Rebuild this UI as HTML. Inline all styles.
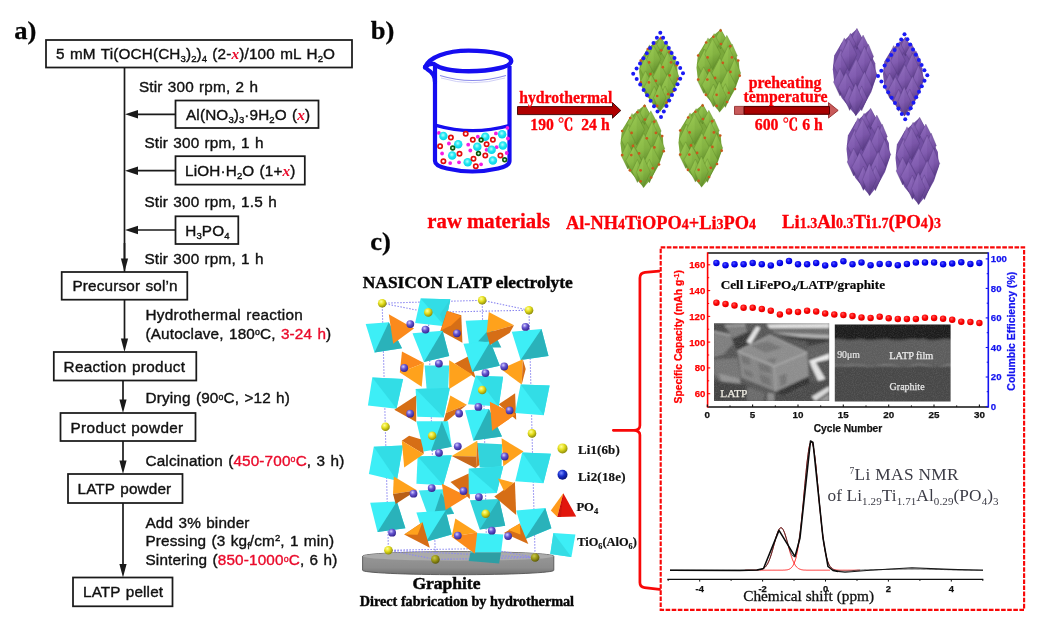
<!DOCTYPE html>
<html><head><meta charset="utf-8"><title>LATP figure</title>
<style>
html,body{margin:0;padding:0;background:#fff;}
body{width:1047px;height:637px;overflow:hidden;position:relative;}
svg{position:absolute;left:0;top:0;}
.fa{font-family:'Liberation Sans','NanumGothic',sans-serif;font-size:15.3px;fill:#111;letter-spacing:0.15px;word-spacing:0.9px;stroke:#111;stroke-width:0.38px}
.sub{font-size:9.5px;letter-spacing:0}
.rx{font-family:'Liberation Serif',serif;font-style:italic;font-weight:bold;fill:#ea0c2c;stroke:none}
.red{fill:#ea0c2c;stroke:#ea0c2c}
.lbl{font-family:"Liberation Serif",serif;font-weight:bold;fill:#050505}
.rb{font-family:'Liberation Serif','Noto Serif CJK SC',serif;font-weight:bold;fill:#fb0007;stroke:#fb0007;stroke-width:0.3px}
.bx{fill:#fff;stroke:#1a1a1a;stroke-width:1.75}
.ln{stroke:#1a1a1a;stroke-width:1.7;fill:none}
</style></head><body>
<svg width="1047" height="637" viewBox="0 0 1047 637">
<rect width="1047" height="637" fill="#fff"/>
<g id="panelA"><text class="lbl" transform="translate(14.3,39.3) scale(1.07,1)" font-size="24.8" stroke="#111" stroke-width="0.3">a)</text><path class="ln" d="M124.5 67 V272"/><rect class="bx" x="46" y="40" width="306" height="27.5"/><text class="fa" x="56" y="59.3">5 mM Ti(OCH(CH<tspan class="sub" baseline-shift="-3">3</tspan>)<tspan class="sub" baseline-shift="-3">2</tspan>)<tspan class="sub" baseline-shift="-3">4</tspan> (2-<tspan class="rx">x</tspan>)/100 mL H<tspan class="sub" baseline-shift="-3">2</tspan>O</text><text class="fa" x="139" y="91.5">Stir 300 rpm, 2 h</text><rect class="bx" x="175.5" y="100.5" width="143.0" height="27.5"/><path class="ln" d="M175.5 114.3 H132.5"/><path d="M138.0 110.1 L138.0 118.5 L125.0 114.3 Z" fill="#1a1a1a"/><text class="fa" x="186" y="119.8">Al(NO<tspan class="sub" baseline-shift="-3">3</tspan>)<tspan class="sub" baseline-shift="-3">3</tspan>·9H<tspan class="sub" baseline-shift="-3">2</tspan>O (<tspan class="rx">x</tspan>)</text><text class="fa" x="144.5" y="147.8">Stir 300 rpm, 1 h</text><rect class="bx" x="175.5" y="156.2" width="129.3" height="28.400000000000006"/><path class="ln" d="M175.5 170.7 H132.5"/><path d="M138.0 166.5 L138.0 174.89999999999998 L125.0 170.7 Z" fill="#1a1a1a"/><text class="fa" x="185" y="176.1">LiOH·H<tspan class="sub" baseline-shift="-3">2</tspan>O (1+<tspan class="rx">x</tspan>)</text><text class="fa" x="144.5" y="206.5">Stir 300 rpm, 1.5 h</text><rect class="bx" x="175.5" y="216.3" width="62.80000000000001" height="27.69999999999999"/><path class="ln" d="M175.5 230 H132.5"/><path d="M138.0 225.8 L138.0 234.2 L125.0 230 Z" fill="#1a1a1a"/><text class="fa" x="185.3" y="235.5">H<tspan class="sub" baseline-shift="-3">3</tspan>PO<tspan class="sub" baseline-shift="-3">4</tspan></text><text class="fa" x="144.5" y="264">Stir 300 rpm, 1 h</text><path class="ln" d="M124.5 243 V264"/><path d="M120.9 258.5 L128.1 258.5 L124.5 272 Z" fill="#1a1a1a"/><rect class="bx" x="61.7" y="272" width="125.60000000000001" height="27.69999999999999"/><text class="fa" x="72.5" y="291.3">Precursor sol’n</text><path class="ln" d="M124.5 299.5 V344"/><path d="M120.9 338.5 L128.1 338.5 L124.5 352 Z" fill="#1a1a1a"/><text class="fa" x="145.5" y="319.7" style="letter-spacing:0.3px">Hydrothermal reaction</text><text class="fa" x="145.5" y="338.5">(Autoclave, 180<tspan font-size="8.8" dy="-3.6">o</tspan><tspan dy="3.6">C, </tspan><tspan class="red">3-24 h</tspan>)</text><rect class="bx" x="53.8" y="352" width="142.5" height="28.5"/><text class="fa" x="63.5" y="371.8" style="letter-spacing:0.33px">Reaction product</text><path class="ln" d="M123 380.5 V405"/><path d="M119.4 399.5 L126.6 399.5 L123 413 Z" fill="#1a1a1a"/><text class="fa" x="145.5" y="403.3">Drying (90<tspan font-size="8.8" dy="-3.6">o</tspan><tspan dy="3.6">C, &gt;12 h)</tspan></text><rect class="bx" x="60.5" y="413" width="135.0" height="28"/><text class="fa" x="70.5" y="432.7" style="letter-spacing:0.36px">Product powder</text><path class="ln" d="M123 441 V466"/><path d="M119.4 460.5 L126.6 460.5 L123 474 Z" fill="#1a1a1a"/><text class="fa" x="145.5" y="465.8">Calcination (<tspan class="red">450-700<tspan font-size="8.8" dy="-3.6">o</tspan><tspan dy="3.6">C</tspan></tspan>, 3 h)</text><rect class="bx" x="68" y="474" width="114.5" height="29"/><text class="fa" x="77.5" y="494.3">LATP powder</text><path class="ln" d="M123 503 V569.5"/><path d="M119.4 564.0 L126.6 564.0 L123 577.5 Z" fill="#1a1a1a"/><text class="fa" x="145.5" y="527.5">Add 3% binder</text><text class="fa" x="145.5" y="546.3">Pressing (3 kg<tspan class="sub" dy="3">f</tspan><tspan dy="-3">/cm</tspan><tspan class="sub" dy="-5">2</tspan><tspan dy="5">, 1 min)</tspan></text><text class="fa" x="145.5" y="565.3">Sintering (<tspan class="red">850-1000<tspan font-size="8.8" dy="-3.6">o</tspan><tspan dy="3.6">C</tspan></tspan>, 6 h)</text><rect class="bx" x="73" y="577.5" width="99.5" height="28.799999999999955"/><text class="fa" x="83" y="597.3">LATP pellet</text></g><defs><filter id="soft" x="-5%" y="-5%" width="110%" height="110%"><feGaussianBlur stdDeviation="0.45"/></filter><radialGradient id="cy" cx="0.45" cy="0.4" r="0.6"><stop offset="0" stop-color="#b8ffff"/><stop offset="0.5" stop-color="#22e6f2"/><stop offset="1" stop-color="#08d2e6"/></radialGradient></defs><g id="panelB"><text class="lbl" transform="translate(370.8,39.3) scale(1.07,1)" font-size="24.8" stroke="#111" stroke-width="0.3">b)</text><g filter="url(#soft)"><path d="M435 66 V161 Q435 166 447 168.5 Q472 174.5 498 168.5 Q509.5 166 509.5 161 V66" fill="#fff" stroke="#120cf0" stroke-width="4.2" stroke-linejoin="round"/><path d="M436 125.3 Q472 135.8 509 125.6" fill="none" stroke="#120cf0" stroke-width="3.3"/><path d="M425.4 66.6 C429 57.5 446 50.6 468.6 50.6 C492 50.6 511.2 55 511.2 60.9 C511.2 66.8 492 71.2 468.6 71.2 C452 71.2 439.5 68.4 433.8 64 Q429 63.4 425.4 66.6 Z" fill="#fff" stroke="#120cf0" stroke-width="4.4" stroke-linejoin="round"/><circle cx="425.6" cy="67.2" r="2.7" fill="#120cf0"/><path d="M427.5 69.5 Q434.8 73.5 435 82" fill="none" stroke="#120cf0" stroke-width="4.2" stroke-linecap="round"/><path d="M440 75.5 Q472 85.5 506 75.5" fill="none" stroke="#8a8aea" stroke-width="1.2"/><path d="M441 78 Q472 87.5 505 78" fill="none" stroke="#c4c4f4" stroke-width="0.8"/><circle cx="438.9" cy="132.9" r="1.9" fill="#f41ce4"/><circle cx="507.4" cy="127.9" r="1.9" fill="#f41ce4"/><circle cx="495.9" cy="133.4" r="1.9" fill="#f41ce4"/><circle cx="477.8" cy="136.7" r="1.9" fill="#f41ce4"/><circle cx="507.9" cy="138.5" r="1.9" fill="#f41ce4"/><circle cx="448.9" cy="143.5" r="1.9" fill="#f41ce4"/><circle cx="468.2" cy="144.7" r="1.9" fill="#f41ce4"/><circle cx="496.6" cy="147.2" r="1.9" fill="#f41ce4"/><circle cx="442.1" cy="153.5" r="1.9" fill="#f41ce4"/><circle cx="470.3" cy="150.5" r="1.9" fill="#f41ce4"/><circle cx="506.7" cy="153.0" r="1.9" fill="#f41ce4"/><circle cx="450.2" cy="163.1" r="1.9" fill="#f41ce4"/><circle cx="459.0" cy="162.3" r="1.9" fill="#f41ce4"/><circle cx="481.1" cy="164.3" r="1.9" fill="#f41ce4"/><circle cx="486.6" cy="149.8" r="1.9" fill="#f41ce4"/><circle cx="443.4" cy="136.0" r="4.25" fill="url(#cy)"/><circle cx="458.2" cy="144.2" r="4.25" fill="url(#cy)"/><circle cx="485.3" cy="136.7" r="4.25" fill="url(#cy)"/><circle cx="502.1" cy="134.2" r="4.25" fill="url(#cy)"/><circle cx="477.3" cy="146.7" r="4.25" fill="url(#cy)"/><circle cx="491.6" cy="149.8" r="4.25" fill="url(#cy)"/><circle cx="502.9" cy="145.5" r="4.25" fill="url(#cy)"/><circle cx="452.2" cy="155.5" r="4.25" fill="url(#cy)"/><circle cx="467.7" cy="162.3" r="4.25" fill="url(#cy)"/><circle cx="492.9" cy="160.6" r="4.25" fill="url(#cy)"/><circle cx="465.7" cy="133.7" r="2.15" fill="#fff" stroke="#e20c0c" stroke-width="1.7"/><circle cx="450.9" cy="137.5" r="2.15" fill="#fff" stroke="#e20c0c" stroke-width="1.7"/><circle cx="440.1" cy="146.2" r="2.15" fill="#fff" stroke="#e20c0c" stroke-width="1.7"/><circle cx="472.8" cy="139.7" r="2.15" fill="#fff" stroke="#e20c0c" stroke-width="1.7"/><circle cx="492.9" cy="139.7" r="2.15" fill="#fff" stroke="#e20c0c" stroke-width="1.7"/><circle cx="486.6" cy="144.2" r="2.15" fill="#fff" stroke="#e20c0c" stroke-width="1.7"/><circle cx="459.5" cy="153.8" r="2.15" fill="#fff" stroke="#e20c0c" stroke-width="1.7"/><circle cx="485.3" cy="155.5" r="2.15" fill="#fff" stroke="#e20c0c" stroke-width="1.7"/><circle cx="473.5" cy="158.8" r="2.15" fill="#fff" stroke="#e20c0c" stroke-width="1.7"/><circle cx="443.4" cy="161.3" r="2.15" fill="#fff" stroke="#e20c0c" stroke-width="1.7"/><circle cx="475.8" cy="166.3" r="2.15" fill="#fff" stroke="#e20c0c" stroke-width="1.7"/><circle cx="500.4" cy="155.5" r="2.15" fill="#fff" stroke="#e20c0c" stroke-width="1.7"/><circle cx="481.1" cy="140.0" r="1.9" fill="#d8f8d8" stroke="#0a5a10" stroke-width="1.6"/><circle cx="452.7" cy="148.0" r="1.9" fill="#d8f8d8" stroke="#0a5a10" stroke-width="1.6"/><circle cx="478.5" cy="153.5" r="1.9" fill="#d8f8d8" stroke="#0a5a10" stroke-width="1.6"/><circle cx="504.7" cy="159.8" r="1.9" fill="#d8f8d8" stroke="#0a5a10" stroke-width="1.6"/></g><g filter="url(#soft)"><path d="M517.5 106.6 H612.5 V102.6 L620.8 110.5 L612.5 118.2 V114.6 H517.5 Z" fill="#b00000" stroke="#3a0000" stroke-width="0.9" stroke-linejoin="miter"/><path d="M734.5 106.4 H828.5 V102.6 L838.2 110.4 L828.5 118.1 V114.4 H734.5 Z" fill="#c85a5a" stroke="#8a2020" stroke-width="0.8"/><path d="M744 106.6 H829.5 V114.2 H744 Z" fill="#a80000" stroke="#480000" stroke-width="0.9"/></g><text class="rb" x="519.3" y="102.6" font-size="15.7">hydrothermal</text><text class="rb" x="530.3" y="130.4" font-size="15.7" xml:space="preserve">190 ℃  24 h</text><text class="rb" x="748.8" y="87.9" font-size="15.8">preheating</text><text class="rb" x="743.6" y="102.4" font-size="15.8">temperature</text><text class="rb" x="754.8" y="130.2" font-size="15.8">600 ℃ 6 h</text><text class="rb" x="427.3" y="228.4" font-size="20.75">raw materials</text><text class="rb" x="566" y="229" font-size="18.35">Al-NH<tspan font-size="14">4</tspan>TiOPO<tspan font-size="14">4</tspan>+Li<tspan font-size="14">3</tspan>PO<tspan font-size="14">4</tspan></text><text class="rb" x="782" y="228.3" font-size="18.8">Li<tspan font-size="14">1.3</tspan>Al<tspan font-size="14">0.3</tspan>Ti<tspan font-size="14">1.7</tspan>(PO<tspan font-size="14">4</tspan>)<tspan font-size="14">3</tspan></text><defs><linearGradient id="gG" x1="0" y1="0" x2="0.25" y2="1"><stop offset="0" stop-color="#9ccb56"/><stop offset="0.6" stop-color="#8aba46"/><stop offset="1" stop-color="#6b9832"/></linearGradient><linearGradient id="gP" x1="0" y1="0" x2="0.25" y2="1"><stop offset="0" stop-color="#9472c0"/><stop offset="0.6" stop-color="#815cb0"/><stop offset="1" stop-color="#5e408a"/></linearGradient><filter id="soft2" x="-5%" y="-5%" width="110%" height="110%"><feGaussianBlur stdDeviation="0.6"/></filter></defs><g filter="url(#soft2)"><polygon points="660.8,37.2 653.7,43.1 647.2,49.0 640.4,60.0 639.1,71.7 640.4,82.8 647.2,96.4 656.9,108.1 660.2,111.5 666.7,103.6 673.8,91.2 678.1,78.9 677.3,66.5 669.9,52.9 664.7,43.8" fill="#7aa83a"/><polygon points="660.8,36.6 665.8,45.7 660.8,54.8 655.9,45.7" fill="url(#gG)" stroke="#4f7a1e" stroke-width="0.5" stroke-opacity="0.55"/><polygon points="660.8,36.6 665.8,45.7 660.8,54.8" fill="#2c5008" fill-opacity="0.07"/><polygon points="655.0,40.9 659.9,50.3 655.0,59.6 650.1,50.3" fill="url(#gG)" stroke="#4f7a1e" stroke-width="0.5" stroke-opacity="0.55"/><polygon points="655.0,40.9 659.9,50.3 655.0,59.6" fill="#2c5008" fill-opacity="0.07"/><polygon points="666.4,42.5 671.6,52.2 666.4,62.0 661.2,52.2" fill="url(#gG)" stroke="#4f7a1e" stroke-width="0.5" stroke-opacity="0.55"/><polygon points="666.4,42.5 671.6,52.2 666.4,62.0" fill="#2c5008" fill-opacity="0.07"/><polygon points="649.5,44.8 654.1,54.2 649.5,63.5 645.0,54.2" fill="url(#gG)" stroke="#4f7a1e" stroke-width="0.5" stroke-opacity="0.55"/><polygon points="649.5,44.8 654.1,54.2 649.5,63.5" fill="#2c5008" fill-opacity="0.07"/><polygon points="671.2,50.3 675.8,60.7 671.2,71.1 666.7,60.7" fill="url(#gG)" stroke="#4f7a1e" stroke-width="0.5" stroke-opacity="0.55"/><polygon points="671.2,50.3 675.8,60.7 671.2,71.1" fill="#2c5008" fill-opacity="0.07"/><polygon points="646.5,54.8 653.3,68.5 646.5,82.1 639.8,68.5" fill="url(#gG)" stroke="#4f7a1e" stroke-width="0.5" stroke-opacity="0.55"/><polygon points="646.5,54.8 653.3,68.5 646.5,82.1" fill="#2c5008" fill-opacity="0.07"/><polygon points="653.7,45.4 660.8,59.4 653.7,73.4 646.5,59.4" fill="url(#gG)" stroke="#4f7a1e" stroke-width="0.5" stroke-opacity="0.55"/><polygon points="653.7,45.4 660.8,59.4 653.7,73.4" fill="#2c5008" fill-opacity="0.07"/><polygon points="667.7,51.8 674.2,65.9 667.7,79.9 661.2,65.9" fill="url(#gG)" stroke="#4f7a1e" stroke-width="0.5" stroke-opacity="0.55"/><polygon points="667.7,51.8 674.2,65.9 667.7,79.9" fill="#2c5008" fill-opacity="0.07"/><polygon points="673.4,63.3 678.9,76.3 673.4,89.3 668.0,76.3" fill="url(#gG)" stroke="#4f7a1e" stroke-width="0.5" stroke-opacity="0.55"/><polygon points="673.4,63.3 678.9,76.3 673.4,89.3" fill="#2c5008" fill-opacity="0.07"/><polygon points="660.2,62.6 667.3,76.7 660.2,90.7 653.0,76.7" fill="url(#gG)" stroke="#4f7a1e" stroke-width="0.5" stroke-opacity="0.55"/><polygon points="660.2,62.6 667.3,76.7 660.2,90.7" fill="#2c5008" fill-opacity="0.07"/><polygon points="645.6,70.8 651.5,82.8 645.6,94.7 639.8,82.8" fill="url(#gG)" stroke="#4f7a1e" stroke-width="0.5" stroke-opacity="0.55"/><polygon points="645.6,70.8 651.5,82.8 645.6,94.7" fill="#2c5008" fill-opacity="0.07"/><polygon points="651.1,74.3 658.2,87.3 651.1,100.3 643.9,87.3" fill="url(#gG)" stroke="#4f7a1e" stroke-width="0.5" stroke-opacity="0.55"/><polygon points="651.1,74.3 658.2,87.3 651.1,100.3" fill="#2c5008" fill-opacity="0.07"/><polygon points="667.7,73.7 674.5,87.3 667.7,101.0 661.0,87.3" fill="url(#gG)" stroke="#4f7a1e" stroke-width="0.5" stroke-opacity="0.55"/><polygon points="667.7,73.7 674.5,87.3 667.7,101.0" fill="#2c5008" fill-opacity="0.07"/><polygon points="654.3,86.3 659.3,96.7 654.3,107.1 649.4,96.7" fill="url(#gG)" stroke="#4f7a1e" stroke-width="0.5" stroke-opacity="0.55"/><polygon points="654.3,86.3 659.3,96.7 654.3,107.1" fill="#2c5008" fill-opacity="0.07"/><polygon points="665.1,86.0 670.1,96.7 665.1,107.3 660.2,96.7" fill="url(#gG)" stroke="#4f7a1e" stroke-width="0.5" stroke-opacity="0.55"/><polygon points="665.1,86.0 670.1,96.7 665.1,107.3" fill="#2c5008" fill-opacity="0.07"/><polygon points="659.8,83.7 666.0,97.7 659.8,111.7 653.6,97.7" fill="url(#gG)" stroke="#4f7a1e" stroke-width="0.5" stroke-opacity="0.55"/><polygon points="659.8,83.7 666.0,97.7 659.8,111.7" fill="#2c5008" fill-opacity="0.07"/><circle cx="660.8" cy="38.2" r="1.35" fill="#c9581c"/><circle cx="654.3" cy="43.8" r="1.35" fill="#c9581c"/><circle cx="647.8" cy="49.0" r="1.35" fill="#c9581c"/><circle cx="661.2" cy="50.3" r="1.35" fill="#c9581c"/><circle cx="669.5" cy="52.2" r="1.35" fill="#c9581c"/><circle cx="640.7" cy="60.7" r="1.35" fill="#c9581c"/><circle cx="649.1" cy="62.4" r="1.35" fill="#c9581c"/><circle cx="671.0" cy="62.4" r="1.35" fill="#c9581c"/><circle cx="676.7" cy="65.2" r="1.35" fill="#c9581c"/><circle cx="662.8" cy="67.2" r="1.35" fill="#c9581c"/><circle cx="650.4" cy="74.1" r="1.35" fill="#c9581c"/><circle cx="669.7" cy="75.4" r="1.35" fill="#c9581c"/><circle cx="678.0" cy="78.9" r="1.35" fill="#c9581c"/><circle cx="640.7" cy="82.4" r="1.35" fill="#c9581c"/><circle cx="648.9" cy="82.4" r="1.35" fill="#c9581c"/><circle cx="655.9" cy="80.8" r="1.35" fill="#c9581c"/><circle cx="673.8" cy="90.8" r="1.35" fill="#c9581c"/><circle cx="668.2" cy="94.2" r="1.35" fill="#c9581c"/><circle cx="647.6" cy="96.0" r="1.35" fill="#c9581c"/><circle cx="657.2" cy="96.0" r="1.35" fill="#c9581c"/><circle cx="666.7" cy="102.5" r="1.35" fill="#c9581c"/><circle cx="657.2" cy="105.9" r="1.35" fill="#c9581c"/></g><g filter="url(#soft2)"><polygon points="720.6,29.4 712.7,36.0 705.4,42.5 697.9,54.8 696.5,67.8 697.9,80.1 705.4,95.2 716.3,108.2 719.9,112.0 727.1,103.2 735.0,89.5 739.8,75.7 738.9,62.0 730.7,46.9 724.9,36.8" fill="#7aa83a"/><polygon points="720.6,28.8 726.1,38.9 720.6,49.0 715.1,38.9" fill="url(#gG)" stroke="#4f7a1e" stroke-width="0.5" stroke-opacity="0.55"/><polygon points="720.6,28.8 726.1,38.9 720.6,49.0" fill="#2c5008" fill-opacity="0.07"/><polygon points="714.1,33.6 719.6,44.0 714.1,54.4 708.6,44.0" fill="url(#gG)" stroke="#4f7a1e" stroke-width="0.5" stroke-opacity="0.55"/><polygon points="714.1,33.6 719.6,44.0 714.1,54.4" fill="#2c5008" fill-opacity="0.07"/><polygon points="726.8,35.3 732.6,46.2 726.8,57.0 721.0,46.2" fill="url(#gG)" stroke="#4f7a1e" stroke-width="0.5" stroke-opacity="0.55"/><polygon points="726.8,35.3 732.6,46.2 726.8,57.0" fill="#2c5008" fill-opacity="0.07"/><polygon points="708.0,37.9 713.1,48.3 708.0,58.7 703.0,48.3" fill="url(#gG)" stroke="#4f7a1e" stroke-width="0.5" stroke-opacity="0.55"/><polygon points="708.0,37.9 713.1,48.3 708.0,58.7" fill="#2c5008" fill-opacity="0.07"/><polygon points="732.1,44.0 737.2,55.5 732.1,67.1 727.1,55.5" fill="url(#gG)" stroke="#4f7a1e" stroke-width="0.5" stroke-opacity="0.55"/><polygon points="732.1,44.0 737.2,55.5 732.1,67.1" fill="#2c5008" fill-opacity="0.07"/><polygon points="704.7,49.0 712.2,64.2 704.7,79.4 697.2,64.2" fill="url(#gG)" stroke="#4f7a1e" stroke-width="0.5" stroke-opacity="0.55"/><polygon points="704.7,49.0 712.2,64.2 704.7,79.4" fill="#2c5008" fill-opacity="0.07"/><polygon points="712.7,38.5 720.6,54.1 712.7,69.7 704.7,54.1" fill="url(#gG)" stroke="#4f7a1e" stroke-width="0.5" stroke-opacity="0.55"/><polygon points="712.7,38.5 720.6,54.1 712.7,69.7" fill="#2c5008" fill-opacity="0.07"/><polygon points="728.2,45.7 735.5,61.3 728.2,76.9 721.0,61.3" fill="url(#gG)" stroke="#4f7a1e" stroke-width="0.5" stroke-opacity="0.55"/><polygon points="728.2,45.7 735.5,61.3 728.2,76.9" fill="#2c5008" fill-opacity="0.07"/><polygon points="734.6,58.4 740.7,72.9 734.6,87.3 728.5,72.9" fill="url(#gG)" stroke="#4f7a1e" stroke-width="0.5" stroke-opacity="0.55"/><polygon points="734.6,58.4 740.7,72.9 734.6,87.3" fill="#2c5008" fill-opacity="0.07"/><polygon points="719.9,57.7 727.8,73.3 719.9,88.9 711.9,73.3" fill="url(#gG)" stroke="#4f7a1e" stroke-width="0.5" stroke-opacity="0.55"/><polygon points="719.9,57.7 727.8,73.3 719.9,88.9" fill="#2c5008" fill-opacity="0.07"/><polygon points="703.7,66.8 710.2,80.1 703.7,93.4 697.2,80.1" fill="url(#gG)" stroke="#4f7a1e" stroke-width="0.5" stroke-opacity="0.55"/><polygon points="703.7,66.8 710.2,80.1 703.7,93.4" fill="#2c5008" fill-opacity="0.07"/><polygon points="709.8,70.7 717.7,85.1 709.8,99.6 701.8,85.1" fill="url(#gG)" stroke="#4f7a1e" stroke-width="0.5" stroke-opacity="0.55"/><polygon points="709.8,70.7 717.7,85.1 709.8,99.6" fill="#2c5008" fill-opacity="0.07"/><polygon points="728.2,70.0 735.8,85.1 728.2,100.3 720.7,85.1" fill="url(#gG)" stroke="#4f7a1e" stroke-width="0.5" stroke-opacity="0.55"/><polygon points="728.2,70.0 735.8,85.1 728.2,100.3" fill="#2c5008" fill-opacity="0.07"/><polygon points="713.4,84.0 718.9,95.5 713.4,107.1 707.9,95.5" fill="url(#gG)" stroke="#4f7a1e" stroke-width="0.5" stroke-opacity="0.55"/><polygon points="713.4,84.0 718.9,95.5 713.4,107.1" fill="#2c5008" fill-opacity="0.07"/><polygon points="725.4,83.7 730.8,95.5 725.4,107.4 719.9,95.5" fill="url(#gG)" stroke="#4f7a1e" stroke-width="0.5" stroke-opacity="0.55"/><polygon points="725.4,83.7 730.8,95.5 725.4,107.4" fill="#2c5008" fill-opacity="0.07"/><polygon points="719.4,81.1 726.4,96.7 719.4,112.3 712.5,96.7" fill="url(#gG)" stroke="#4f7a1e" stroke-width="0.5" stroke-opacity="0.55"/><polygon points="719.4,81.1 726.4,96.7 719.4,112.3" fill="#2c5008" fill-opacity="0.07"/><circle cx="720.6" cy="30.6" r="1.35" fill="#c9581c"/><circle cx="713.4" cy="36.8" r="1.35" fill="#c9581c"/><circle cx="706.2" cy="42.5" r="1.35" fill="#c9581c"/><circle cx="721.0" cy="44.0" r="1.35" fill="#c9581c"/><circle cx="730.3" cy="46.2" r="1.35" fill="#c9581c"/><circle cx="698.2" cy="55.5" r="1.35" fill="#c9581c"/><circle cx="707.6" cy="57.4" r="1.35" fill="#c9581c"/><circle cx="731.9" cy="57.4" r="1.35" fill="#c9581c"/><circle cx="738.2" cy="60.6" r="1.35" fill="#c9581c"/><circle cx="722.8" cy="62.8" r="1.35" fill="#c9581c"/><circle cx="709.0" cy="70.4" r="1.35" fill="#c9581c"/><circle cx="730.4" cy="71.9" r="1.35" fill="#c9581c"/><circle cx="739.7" cy="75.7" r="1.35" fill="#c9581c"/><circle cx="698.2" cy="79.6" r="1.35" fill="#c9581c"/><circle cx="707.3" cy="79.6" r="1.35" fill="#c9581c"/><circle cx="715.1" cy="77.9" r="1.35" fill="#c9581c"/><circle cx="735.0" cy="89.0" r="1.35" fill="#c9581c"/><circle cx="728.8" cy="92.8" r="1.35" fill="#c9581c"/><circle cx="705.9" cy="94.8" r="1.35" fill="#c9581c"/><circle cx="716.6" cy="94.8" r="1.35" fill="#c9581c"/><circle cx="727.1" cy="102.0" r="1.35" fill="#c9581c"/><circle cx="716.6" cy="105.8" r="1.35" fill="#c9581c"/></g><g filter="url(#soft2)"><polygon points="644.6,104.9 636.7,111.5 629.4,118.0 621.9,130.3 620.5,143.3 621.9,155.6 629.4,170.7 640.3,183.7 643.9,187.5 651.1,178.7 659.0,165.0 663.8,151.2 662.9,137.5 654.7,122.4 648.9,112.3" fill="#7aa83a"/><polygon points="644.6,104.3 650.1,114.4 644.6,124.5 639.1,114.4" fill="url(#gG)" stroke="#4f7a1e" stroke-width="0.5" stroke-opacity="0.55"/><polygon points="644.6,104.3 650.1,114.4 644.6,124.5" fill="#2c5008" fill-opacity="0.07"/><polygon points="638.1,109.1 643.6,119.5 638.1,129.9 632.6,119.5" fill="url(#gG)" stroke="#4f7a1e" stroke-width="0.5" stroke-opacity="0.55"/><polygon points="638.1,109.1 643.6,119.5 638.1,129.9" fill="#2c5008" fill-opacity="0.07"/><polygon points="650.8,110.8 656.6,121.7 650.8,132.5 645.0,121.7" fill="url(#gG)" stroke="#4f7a1e" stroke-width="0.5" stroke-opacity="0.55"/><polygon points="650.8,110.8 656.6,121.7 650.8,132.5" fill="#2c5008" fill-opacity="0.07"/><polygon points="632.0,113.4 637.1,123.8 632.0,134.2 627.0,123.8" fill="url(#gG)" stroke="#4f7a1e" stroke-width="0.5" stroke-opacity="0.55"/><polygon points="632.0,113.4 637.1,123.8 632.0,134.2" fill="#2c5008" fill-opacity="0.07"/><polygon points="656.1,119.5 661.2,131.0 656.1,142.6 651.1,131.0" fill="url(#gG)" stroke="#4f7a1e" stroke-width="0.5" stroke-opacity="0.55"/><polygon points="656.1,119.5 661.2,131.0 656.1,142.6" fill="#2c5008" fill-opacity="0.07"/><polygon points="628.7,124.5 636.2,139.7 628.7,154.9 621.2,139.7" fill="url(#gG)" stroke="#4f7a1e" stroke-width="0.5" stroke-opacity="0.55"/><polygon points="628.7,124.5 636.2,139.7 628.7,154.9" fill="#2c5008" fill-opacity="0.07"/><polygon points="636.7,114.0 644.6,129.6 636.7,145.2 628.7,129.6" fill="url(#gG)" stroke="#4f7a1e" stroke-width="0.5" stroke-opacity="0.55"/><polygon points="636.7,114.0 644.6,129.6 636.7,145.2" fill="#2c5008" fill-opacity="0.07"/><polygon points="652.2,121.2 659.5,136.8 652.2,152.4 645.0,136.8" fill="url(#gG)" stroke="#4f7a1e" stroke-width="0.5" stroke-opacity="0.55"/><polygon points="652.2,121.2 659.5,136.8 652.2,152.4" fill="#2c5008" fill-opacity="0.07"/><polygon points="658.6,133.9 664.7,148.4 658.6,162.8 652.5,148.4" fill="url(#gG)" stroke="#4f7a1e" stroke-width="0.5" stroke-opacity="0.55"/><polygon points="658.6,133.9 664.7,148.4 658.6,162.8" fill="#2c5008" fill-opacity="0.07"/><polygon points="643.9,133.2 651.8,148.8 643.9,164.4 635.9,148.8" fill="url(#gG)" stroke="#4f7a1e" stroke-width="0.5" stroke-opacity="0.55"/><polygon points="643.9,133.2 651.8,148.8 643.9,164.4" fill="#2c5008" fill-opacity="0.07"/><polygon points="627.7,142.3 634.2,155.6 627.7,168.9 621.2,155.6" fill="url(#gG)" stroke="#4f7a1e" stroke-width="0.5" stroke-opacity="0.55"/><polygon points="627.7,142.3 634.2,155.6 627.7,168.9" fill="#2c5008" fill-opacity="0.07"/><polygon points="633.8,146.2 641.7,160.6 633.8,175.1 625.8,160.6" fill="url(#gG)" stroke="#4f7a1e" stroke-width="0.5" stroke-opacity="0.55"/><polygon points="633.8,146.2 641.7,160.6 633.8,175.1" fill="#2c5008" fill-opacity="0.07"/><polygon points="652.2,145.5 659.8,160.6 652.2,175.8 644.7,160.6" fill="url(#gG)" stroke="#4f7a1e" stroke-width="0.5" stroke-opacity="0.55"/><polygon points="652.2,145.5 659.8,160.6 652.2,175.8" fill="#2c5008" fill-opacity="0.07"/><polygon points="637.4,159.5 642.9,171.0 637.4,182.6 631.9,171.0" fill="url(#gG)" stroke="#4f7a1e" stroke-width="0.5" stroke-opacity="0.55"/><polygon points="637.4,159.5 642.9,171.0 637.4,182.6" fill="#2c5008" fill-opacity="0.07"/><polygon points="649.4,159.2 654.8,171.0 649.4,182.9 643.9,171.0" fill="url(#gG)" stroke="#4f7a1e" stroke-width="0.5" stroke-opacity="0.55"/><polygon points="649.4,159.2 654.8,171.0 649.4,182.9" fill="#2c5008" fill-opacity="0.07"/><polygon points="643.4,156.6 650.4,172.2 643.4,187.8 636.5,172.2" fill="url(#gG)" stroke="#4f7a1e" stroke-width="0.5" stroke-opacity="0.55"/><polygon points="643.4,156.6 650.4,172.2 643.4,187.8" fill="#2c5008" fill-opacity="0.07"/><circle cx="644.6" cy="106.1" r="1.35" fill="#c9581c"/><circle cx="637.4" cy="112.3" r="1.35" fill="#c9581c"/><circle cx="630.2" cy="118.0" r="1.35" fill="#c9581c"/><circle cx="645.0" cy="119.5" r="1.35" fill="#c9581c"/><circle cx="654.3" cy="121.7" r="1.35" fill="#c9581c"/><circle cx="622.2" cy="131.0" r="1.35" fill="#c9581c"/><circle cx="631.6" cy="132.9" r="1.35" fill="#c9581c"/><circle cx="655.9" cy="132.9" r="1.35" fill="#c9581c"/><circle cx="662.2" cy="136.1" r="1.35" fill="#c9581c"/><circle cx="646.8" cy="138.3" r="1.35" fill="#c9581c"/><circle cx="633.0" cy="145.9" r="1.35" fill="#c9581c"/><circle cx="654.4" cy="147.4" r="1.35" fill="#c9581c"/><circle cx="663.7" cy="151.2" r="1.35" fill="#c9581c"/><circle cx="622.2" cy="155.1" r="1.35" fill="#c9581c"/><circle cx="631.3" cy="155.1" r="1.35" fill="#c9581c"/><circle cx="639.1" cy="153.4" r="1.35" fill="#c9581c"/><circle cx="659.0" cy="164.5" r="1.35" fill="#c9581c"/><circle cx="652.8" cy="168.3" r="1.35" fill="#c9581c"/><circle cx="629.9" cy="170.3" r="1.35" fill="#c9581c"/><circle cx="640.6" cy="170.3" r="1.35" fill="#c9581c"/><circle cx="651.1" cy="177.5" r="1.35" fill="#c9581c"/><circle cx="640.6" cy="181.3" r="1.35" fill="#c9581c"/></g><g filter="url(#soft2)"><polygon points="702.6,104.4 694.7,111.0 687.4,117.5 679.9,129.8 678.5,142.8 679.9,155.1 687.4,170.2 698.3,183.2 701.9,187.0 709.1,178.2 717.0,164.5 721.8,150.7 720.9,137.0 712.7,121.9 706.9,111.8" fill="#7aa83a"/><polygon points="702.6,103.8 708.1,113.9 702.6,124.0 697.1,113.9" fill="url(#gG)" stroke="#4f7a1e" stroke-width="0.5" stroke-opacity="0.55"/><polygon points="702.6,103.8 708.1,113.9 702.6,124.0" fill="#2c5008" fill-opacity="0.07"/><polygon points="696.1,108.6 701.6,119.0 696.1,129.4 690.6,119.0" fill="url(#gG)" stroke="#4f7a1e" stroke-width="0.5" stroke-opacity="0.55"/><polygon points="696.1,108.6 701.6,119.0 696.1,129.4" fill="#2c5008" fill-opacity="0.07"/><polygon points="708.8,110.3 714.6,121.2 708.8,132.0 703.0,121.2" fill="url(#gG)" stroke="#4f7a1e" stroke-width="0.5" stroke-opacity="0.55"/><polygon points="708.8,110.3 714.6,121.2 708.8,132.0" fill="#2c5008" fill-opacity="0.07"/><polygon points="690.0,112.9 695.1,123.3 690.0,133.7 685.0,123.3" fill="url(#gG)" stroke="#4f7a1e" stroke-width="0.5" stroke-opacity="0.55"/><polygon points="690.0,112.9 695.1,123.3 690.0,133.7" fill="#2c5008" fill-opacity="0.07"/><polygon points="714.1,119.0 719.2,130.5 714.1,142.1 709.1,130.5" fill="url(#gG)" stroke="#4f7a1e" stroke-width="0.5" stroke-opacity="0.55"/><polygon points="714.1,119.0 719.2,130.5 714.1,142.1" fill="#2c5008" fill-opacity="0.07"/><polygon points="686.7,124.0 694.2,139.2 686.7,154.4 679.2,139.2" fill="url(#gG)" stroke="#4f7a1e" stroke-width="0.5" stroke-opacity="0.55"/><polygon points="686.7,124.0 694.2,139.2 686.7,154.4" fill="#2c5008" fill-opacity="0.07"/><polygon points="694.7,113.5 702.6,129.1 694.7,144.7 686.7,129.1" fill="url(#gG)" stroke="#4f7a1e" stroke-width="0.5" stroke-opacity="0.55"/><polygon points="694.7,113.5 702.6,129.1 694.7,144.7" fill="#2c5008" fill-opacity="0.07"/><polygon points="710.2,120.7 717.5,136.3 710.2,151.9 703.0,136.3" fill="url(#gG)" stroke="#4f7a1e" stroke-width="0.5" stroke-opacity="0.55"/><polygon points="710.2,120.7 717.5,136.3 710.2,151.9" fill="#2c5008" fill-opacity="0.07"/><polygon points="716.6,133.4 722.7,147.9 716.6,162.3 710.5,147.9" fill="url(#gG)" stroke="#4f7a1e" stroke-width="0.5" stroke-opacity="0.55"/><polygon points="716.6,133.4 722.7,147.9 716.6,162.3" fill="#2c5008" fill-opacity="0.07"/><polygon points="701.9,132.7 709.8,148.3 701.9,163.9 693.9,148.3" fill="url(#gG)" stroke="#4f7a1e" stroke-width="0.5" stroke-opacity="0.55"/><polygon points="701.9,132.7 709.8,148.3 701.9,163.9" fill="#2c5008" fill-opacity="0.07"/><polygon points="685.7,141.8 692.2,155.1 685.7,168.4 679.2,155.1" fill="url(#gG)" stroke="#4f7a1e" stroke-width="0.5" stroke-opacity="0.55"/><polygon points="685.7,141.8 692.2,155.1 685.7,168.4" fill="#2c5008" fill-opacity="0.07"/><polygon points="691.8,145.7 699.7,160.1 691.8,174.6 683.8,160.1" fill="url(#gG)" stroke="#4f7a1e" stroke-width="0.5" stroke-opacity="0.55"/><polygon points="691.8,145.7 699.7,160.1 691.8,174.6" fill="#2c5008" fill-opacity="0.07"/><polygon points="710.2,145.0 717.8,160.1 710.2,175.3 702.7,160.1" fill="url(#gG)" stroke="#4f7a1e" stroke-width="0.5" stroke-opacity="0.55"/><polygon points="710.2,145.0 717.8,160.1 710.2,175.3" fill="#2c5008" fill-opacity="0.07"/><polygon points="695.4,159.0 700.9,170.5 695.4,182.1 689.9,170.5" fill="url(#gG)" stroke="#4f7a1e" stroke-width="0.5" stroke-opacity="0.55"/><polygon points="695.4,159.0 700.9,170.5 695.4,182.1" fill="#2c5008" fill-opacity="0.07"/><polygon points="707.4,158.7 712.8,170.5 707.4,182.4 701.9,170.5" fill="url(#gG)" stroke="#4f7a1e" stroke-width="0.5" stroke-opacity="0.55"/><polygon points="707.4,158.7 712.8,170.5 707.4,182.4" fill="#2c5008" fill-opacity="0.07"/><polygon points="701.4,156.1 708.4,171.7 701.4,187.3 694.5,171.7" fill="url(#gG)" stroke="#4f7a1e" stroke-width="0.5" stroke-opacity="0.55"/><polygon points="701.4,156.1 708.4,171.7 701.4,187.3" fill="#2c5008" fill-opacity="0.07"/><circle cx="702.6" cy="105.6" r="1.35" fill="#c9581c"/><circle cx="695.4" cy="111.8" r="1.35" fill="#c9581c"/><circle cx="688.2" cy="117.5" r="1.35" fill="#c9581c"/><circle cx="703.0" cy="119.0" r="1.35" fill="#c9581c"/><circle cx="712.3" cy="121.2" r="1.35" fill="#c9581c"/><circle cx="680.2" cy="130.5" r="1.35" fill="#c9581c"/><circle cx="689.6" cy="132.4" r="1.35" fill="#c9581c"/><circle cx="713.9" cy="132.4" r="1.35" fill="#c9581c"/><circle cx="720.2" cy="135.6" r="1.35" fill="#c9581c"/><circle cx="704.8" cy="137.8" r="1.35" fill="#c9581c"/><circle cx="691.0" cy="145.4" r="1.35" fill="#c9581c"/><circle cx="712.4" cy="146.9" r="1.35" fill="#c9581c"/><circle cx="721.7" cy="150.7" r="1.35" fill="#c9581c"/><circle cx="680.2" cy="154.6" r="1.35" fill="#c9581c"/><circle cx="689.3" cy="154.6" r="1.35" fill="#c9581c"/><circle cx="697.1" cy="152.9" r="1.35" fill="#c9581c"/><circle cx="717.0" cy="164.0" r="1.35" fill="#c9581c"/><circle cx="710.8" cy="167.8" r="1.35" fill="#c9581c"/><circle cx="687.9" cy="169.8" r="1.35" fill="#c9581c"/><circle cx="698.6" cy="169.8" r="1.35" fill="#c9581c"/><circle cx="709.1" cy="177.0" r="1.35" fill="#c9581c"/><circle cx="698.6" cy="180.8" r="1.35" fill="#c9581c"/></g><g filter="url(#soft2)"><polygon points="856.9,28.9 849.0,35.9 841.7,42.7 834.2,55.6 832.8,69.2 834.2,82.1 841.7,98.0 852.6,111.7 856.2,115.6 863.4,106.4 871.3,92.0 876.1,77.6 875.2,63.2 867.0,47.3 861.2,36.7" fill="#7250a2"/><polygon points="856.9,28.3 862.4,38.9 856.9,49.5 851.4,38.9" fill="url(#gP)" stroke="#4a2e74" stroke-width="0.5" stroke-opacity="0.55"/><polygon points="856.9,28.3 862.4,38.9 856.9,49.5" fill="#2a1050" fill-opacity="0.07"/><polygon points="850.4,33.3 855.9,44.2 850.4,55.2 844.9,44.2" fill="url(#gP)" stroke="#4a2e74" stroke-width="0.5" stroke-opacity="0.55"/><polygon points="850.4,33.3 855.9,44.2 850.4,55.2" fill="#2a1050" fill-opacity="0.07"/><polygon points="863.1,35.1 868.9,46.5 863.1,57.9 857.3,46.5" fill="url(#gP)" stroke="#4a2e74" stroke-width="0.5" stroke-opacity="0.55"/><polygon points="863.1,35.1 868.9,46.5 863.1,57.9" fill="#2a1050" fill-opacity="0.07"/><polygon points="844.3,37.9 849.4,48.8 844.3,59.7 839.3,48.8" fill="url(#gP)" stroke="#4a2e74" stroke-width="0.5" stroke-opacity="0.55"/><polygon points="844.3,37.9 849.4,48.8 844.3,59.7" fill="#2a1050" fill-opacity="0.07"/><polygon points="868.4,44.2 873.5,56.4 868.4,68.5 863.4,56.4" fill="url(#gP)" stroke="#4a2e74" stroke-width="0.5" stroke-opacity="0.55"/><polygon points="868.4,44.2 873.5,56.4 868.4,68.5" fill="#2a1050" fill-opacity="0.07"/><polygon points="841.0,49.5 848.5,65.5 841.0,81.4 833.5,65.5" fill="url(#gP)" stroke="#4a2e74" stroke-width="0.5" stroke-opacity="0.55"/><polygon points="841.0,49.5 848.5,65.5 841.0,81.4" fill="#2a1050" fill-opacity="0.07"/><polygon points="849.0,38.5 856.9,54.8 849.0,71.2 841.0,54.8" fill="url(#gP)" stroke="#4a2e74" stroke-width="0.5" stroke-opacity="0.55"/><polygon points="849.0,38.5 856.9,54.8 849.0,71.2" fill="#2a1050" fill-opacity="0.07"/><polygon points="864.5,46.1 871.8,62.4 864.5,78.8 857.3,62.4" fill="url(#gP)" stroke="#4a2e74" stroke-width="0.5" stroke-opacity="0.55"/><polygon points="864.5,46.1 871.8,62.4 864.5,78.8" fill="#2a1050" fill-opacity="0.07"/><polygon points="870.9,59.4 877.0,74.6 870.9,89.7 864.8,74.6" fill="url(#gP)" stroke="#4a2e74" stroke-width="0.5" stroke-opacity="0.55"/><polygon points="870.9,59.4 877.0,74.6 870.9,89.7" fill="#2a1050" fill-opacity="0.07"/><polygon points="856.2,58.6 864.1,75.0 856.2,91.4 848.2,75.0" fill="url(#gP)" stroke="#4a2e74" stroke-width="0.5" stroke-opacity="0.55"/><polygon points="856.2,58.6 864.1,75.0 856.2,91.4" fill="#2a1050" fill-opacity="0.07"/><polygon points="840.0,68.2 846.5,82.1 840.0,96.1 833.5,82.1" fill="url(#gP)" stroke="#4a2e74" stroke-width="0.5" stroke-opacity="0.55"/><polygon points="840.0,68.2 846.5,82.1 840.0,96.1" fill="#2a1050" fill-opacity="0.07"/><polygon points="846.1,72.3 854.0,87.4 846.1,102.6 838.1,87.4" fill="url(#gP)" stroke="#4a2e74" stroke-width="0.5" stroke-opacity="0.55"/><polygon points="846.1,72.3 854.0,87.4 846.1,102.6" fill="#2a1050" fill-opacity="0.07"/><polygon points="864.5,71.5 872.1,87.4 864.5,103.4 857.0,87.4" fill="url(#gP)" stroke="#4a2e74" stroke-width="0.5" stroke-opacity="0.55"/><polygon points="864.5,71.5 872.1,87.4 864.5,103.4" fill="#2a1050" fill-opacity="0.07"/><polygon points="849.7,86.2 855.2,98.4 849.7,110.5 844.2,98.4" fill="url(#gP)" stroke="#4a2e74" stroke-width="0.5" stroke-opacity="0.55"/><polygon points="849.7,86.2 855.2,98.4 849.7,110.5" fill="#2a1050" fill-opacity="0.07"/><polygon points="861.7,85.9 867.1,98.4 861.7,110.8 856.2,98.4" fill="url(#gP)" stroke="#4a2e74" stroke-width="0.5" stroke-opacity="0.55"/><polygon points="861.7,85.9 867.1,98.4 861.7,110.8" fill="#2a1050" fill-opacity="0.07"/><polygon points="855.7,83.2 862.7,99.6 855.7,115.9 848.8,99.6" fill="url(#gP)" stroke="#4a2e74" stroke-width="0.5" stroke-opacity="0.55"/><polygon points="855.7,83.2 862.7,99.6 855.7,115.9" fill="#2a1050" fill-opacity="0.07"/></g><g filter="url(#soft2)"><polygon points="905.4,37.5 898.0,43.8 891.3,50.0 884.3,61.6 883.0,74.0 884.3,85.6 891.3,100.0 901.4,112.4 904.7,115.9 911.5,107.6 918.8,94.5 923.3,81.5 922.5,68.5 914.8,54.1 909.4,44.5" fill="#7250a2"/><polygon points="905.4,36.9 910.5,46.5 905.4,56.1 900.3,46.5" fill="url(#gP)" stroke="#4a2e74" stroke-width="0.5" stroke-opacity="0.55"/><polygon points="905.4,36.9 910.5,46.5 905.4,56.1" fill="#2a1050" fill-opacity="0.07"/><polygon points="899.4,41.5 904.5,51.3 899.4,61.2 894.3,51.3" fill="url(#gP)" stroke="#4a2e74" stroke-width="0.5" stroke-opacity="0.55"/><polygon points="899.4,41.5 904.5,51.3 899.4,61.2" fill="#2a1050" fill-opacity="0.07"/><polygon points="911.2,43.1 916.6,53.4 911.2,63.7 905.8,53.4" fill="url(#gP)" stroke="#4a2e74" stroke-width="0.5" stroke-opacity="0.55"/><polygon points="911.2,43.1 916.6,53.4 911.2,63.7" fill="#2a1050" fill-opacity="0.07"/><polygon points="893.7,45.6 898.4,55.5 893.7,65.3 889.0,55.5" fill="url(#gP)" stroke="#4a2e74" stroke-width="0.5" stroke-opacity="0.55"/><polygon points="893.7,45.6 898.4,55.5 893.7,65.3" fill="#2a1050" fill-opacity="0.07"/><polygon points="916.2,51.3 920.9,62.3 916.2,73.3 911.5,62.3" fill="url(#gP)" stroke="#4a2e74" stroke-width="0.5" stroke-opacity="0.55"/><polygon points="916.2,51.3 920.9,62.3 916.2,73.3" fill="#2a1050" fill-opacity="0.07"/><polygon points="890.6,56.1 897.6,70.5 890.6,84.9 883.7,70.5" fill="url(#gP)" stroke="#4a2e74" stroke-width="0.5" stroke-opacity="0.55"/><polygon points="890.6,56.1 897.6,70.5 890.6,84.9" fill="#2a1050" fill-opacity="0.07"/><polygon points="898.0,46.1 905.4,60.9 898.0,75.8 890.6,60.9" fill="url(#gP)" stroke="#4a2e74" stroke-width="0.5" stroke-opacity="0.55"/><polygon points="898.0,46.1 905.4,60.9 898.0,75.8" fill="#2a1050" fill-opacity="0.07"/><polygon points="912.5,53.0 919.2,67.8 912.5,82.6 905.8,67.8" fill="url(#gP)" stroke="#4a2e74" stroke-width="0.5" stroke-opacity="0.55"/><polygon points="912.5,53.0 919.2,67.8 912.5,82.6" fill="#2a1050" fill-opacity="0.07"/><polygon points="918.4,65.1 924.1,78.8 918.4,92.5 912.8,78.8" fill="url(#gP)" stroke="#4a2e74" stroke-width="0.5" stroke-opacity="0.55"/><polygon points="918.4,65.1 924.1,78.8 918.4,92.5" fill="#2a1050" fill-opacity="0.07"/><polygon points="904.7,64.4 912.1,79.2 904.7,94.0 897.4,79.2" fill="url(#gP)" stroke="#4a2e74" stroke-width="0.5" stroke-opacity="0.55"/><polygon points="904.7,64.4 912.1,79.2 904.7,94.0" fill="#2a1050" fill-opacity="0.07"/><polygon points="889.7,73.0 895.7,85.6 889.7,98.2 883.7,85.6" fill="url(#gP)" stroke="#4a2e74" stroke-width="0.5" stroke-opacity="0.55"/><polygon points="889.7,73.0 895.7,85.6 889.7,98.2" fill="#2a1050" fill-opacity="0.07"/><polygon points="895.3,76.7 902.7,90.4 895.3,104.1 888.0,90.4" fill="url(#gP)" stroke="#4a2e74" stroke-width="0.5" stroke-opacity="0.55"/><polygon points="895.3,76.7 902.7,90.4 895.3,104.1" fill="#2a1050" fill-opacity="0.07"/><polygon points="912.5,76.0 919.5,90.4 912.5,104.8 905.5,90.4" fill="url(#gP)" stroke="#4a2e74" stroke-width="0.5" stroke-opacity="0.55"/><polygon points="912.5,76.0 919.5,90.4 912.5,104.8" fill="#2a1050" fill-opacity="0.07"/><polygon points="898.7,89.3 903.8,100.3 898.7,111.3 893.6,100.3" fill="url(#gP)" stroke="#4a2e74" stroke-width="0.5" stroke-opacity="0.55"/><polygon points="898.7,89.3 903.8,100.3 898.7,111.3" fill="#2a1050" fill-opacity="0.07"/><polygon points="909.8,89.1 914.9,100.3 909.8,111.5 904.7,100.3" fill="url(#gP)" stroke="#4a2e74" stroke-width="0.5" stroke-opacity="0.55"/><polygon points="909.8,89.1 914.9,100.3 909.8,111.5" fill="#2a1050" fill-opacity="0.07"/><polygon points="904.3,86.6 910.8,101.4 904.3,116.2 897.9,101.4" fill="url(#gP)" stroke="#4a2e74" stroke-width="0.5" stroke-opacity="0.55"/><polygon points="904.3,86.6 910.8,101.4 904.3,116.2" fill="#2a1050" fill-opacity="0.07"/></g><g filter="url(#soft2)"><polygon points="870.6,108.8 862.7,115.8 855.4,122.6 847.9,135.5 846.5,149.1 847.9,162.0 855.4,177.9 866.3,191.6 869.9,195.5 877.1,186.3 885.0,171.9 889.8,157.5 888.9,143.1 880.7,127.2 874.9,116.6" fill="#7250a2"/><polygon points="870.6,108.2 876.1,118.8 870.6,129.4 865.1,118.8" fill="url(#gP)" stroke="#4a2e74" stroke-width="0.5" stroke-opacity="0.55"/><polygon points="870.6,108.2 876.1,118.8 870.6,129.4" fill="#2a1050" fill-opacity="0.07"/><polygon points="864.1,113.2 869.6,124.1 864.1,135.1 858.6,124.1" fill="url(#gP)" stroke="#4a2e74" stroke-width="0.5" stroke-opacity="0.55"/><polygon points="864.1,113.2 869.6,124.1 864.1,135.1" fill="#2a1050" fill-opacity="0.07"/><polygon points="876.8,115.0 882.6,126.4 876.8,137.8 871.0,126.4" fill="url(#gP)" stroke="#4a2e74" stroke-width="0.5" stroke-opacity="0.55"/><polygon points="876.8,115.0 882.6,126.4 876.8,137.8" fill="#2a1050" fill-opacity="0.07"/><polygon points="858.0,117.8 863.1,128.7 858.0,139.6 853.0,128.7" fill="url(#gP)" stroke="#4a2e74" stroke-width="0.5" stroke-opacity="0.55"/><polygon points="858.0,117.8 863.1,128.7 858.0,139.6" fill="#2a1050" fill-opacity="0.07"/><polygon points="882.1,124.1 887.2,136.3 882.1,148.4 877.1,136.3" fill="url(#gP)" stroke="#4a2e74" stroke-width="0.5" stroke-opacity="0.55"/><polygon points="882.1,124.1 887.2,136.3 882.1,148.4" fill="#2a1050" fill-opacity="0.07"/><polygon points="854.7,129.4 862.2,145.4 854.7,161.3 847.2,145.4" fill="url(#gP)" stroke="#4a2e74" stroke-width="0.5" stroke-opacity="0.55"/><polygon points="854.7,129.4 862.2,145.4 854.7,161.3" fill="#2a1050" fill-opacity="0.07"/><polygon points="862.7,118.4 870.6,134.7 862.7,151.1 854.7,134.7" fill="url(#gP)" stroke="#4a2e74" stroke-width="0.5" stroke-opacity="0.55"/><polygon points="862.7,118.4 870.6,134.7 862.7,151.1" fill="#2a1050" fill-opacity="0.07"/><polygon points="878.2,126.0 885.5,142.3 878.2,158.7 871.0,142.3" fill="url(#gP)" stroke="#4a2e74" stroke-width="0.5" stroke-opacity="0.55"/><polygon points="878.2,126.0 885.5,142.3 878.2,158.7" fill="#2a1050" fill-opacity="0.07"/><polygon points="884.6,139.3 890.7,154.5 884.6,169.6 878.5,154.5" fill="url(#gP)" stroke="#4a2e74" stroke-width="0.5" stroke-opacity="0.55"/><polygon points="884.6,139.3 890.7,154.5 884.6,169.6" fill="#2a1050" fill-opacity="0.07"/><polygon points="869.9,138.5 877.8,154.9 869.9,171.3 861.9,154.9" fill="url(#gP)" stroke="#4a2e74" stroke-width="0.5" stroke-opacity="0.55"/><polygon points="869.9,138.5 877.8,154.9 869.9,171.3" fill="#2a1050" fill-opacity="0.07"/><polygon points="853.7,148.1 860.2,162.0 853.7,176.0 847.2,162.0" fill="url(#gP)" stroke="#4a2e74" stroke-width="0.5" stroke-opacity="0.55"/><polygon points="853.7,148.1 860.2,162.0 853.7,176.0" fill="#2a1050" fill-opacity="0.07"/><polygon points="859.8,152.2 867.7,167.3 859.8,182.5 851.8,167.3" fill="url(#gP)" stroke="#4a2e74" stroke-width="0.5" stroke-opacity="0.55"/><polygon points="859.8,152.2 867.7,167.3 859.8,182.5" fill="#2a1050" fill-opacity="0.07"/><polygon points="878.2,151.4 885.8,167.3 878.2,183.3 870.7,167.3" fill="url(#gP)" stroke="#4a2e74" stroke-width="0.5" stroke-opacity="0.55"/><polygon points="878.2,151.4 885.8,167.3 878.2,183.3" fill="#2a1050" fill-opacity="0.07"/><polygon points="863.4,166.1 868.9,178.3 863.4,190.4 857.9,178.3" fill="url(#gP)" stroke="#4a2e74" stroke-width="0.5" stroke-opacity="0.55"/><polygon points="863.4,166.1 868.9,178.3 863.4,190.4" fill="#2a1050" fill-opacity="0.07"/><polygon points="875.4,165.8 880.8,178.3 875.4,190.7 869.9,178.3" fill="url(#gP)" stroke="#4a2e74" stroke-width="0.5" stroke-opacity="0.55"/><polygon points="875.4,165.8 880.8,178.3 875.4,190.7" fill="#2a1050" fill-opacity="0.07"/><polygon points="869.4,163.1 876.4,179.5 869.4,195.8 862.5,179.5" fill="url(#gP)" stroke="#4a2e74" stroke-width="0.5" stroke-opacity="0.55"/><polygon points="869.4,163.1 876.4,179.5 869.4,195.8" fill="#2a1050" fill-opacity="0.07"/></g><g filter="url(#soft2)"><polygon points="919.6,117.8 911.7,124.8 904.4,131.6 896.9,144.5 895.5,158.1 896.9,171.0 904.4,186.9 915.3,200.6 918.9,204.5 926.1,195.3 934.0,180.9 938.8,166.5 937.9,152.1 929.7,136.2 923.9,125.6" fill="#7250a2"/><polygon points="919.6,117.2 925.1,127.8 919.6,138.4 914.1,127.8" fill="url(#gP)" stroke="#4a2e74" stroke-width="0.5" stroke-opacity="0.55"/><polygon points="919.6,117.2 925.1,127.8 919.6,138.4" fill="#2a1050" fill-opacity="0.07"/><polygon points="913.1,122.2 918.6,133.1 913.1,144.1 907.6,133.1" fill="url(#gP)" stroke="#4a2e74" stroke-width="0.5" stroke-opacity="0.55"/><polygon points="913.1,122.2 918.6,133.1 913.1,144.1" fill="#2a1050" fill-opacity="0.07"/><polygon points="925.8,124.0 931.6,135.4 925.8,146.8 920.0,135.4" fill="url(#gP)" stroke="#4a2e74" stroke-width="0.5" stroke-opacity="0.55"/><polygon points="925.8,124.0 931.6,135.4 925.8,146.8" fill="#2a1050" fill-opacity="0.07"/><polygon points="907.0,126.8 912.1,137.7 907.0,148.6 902.0,137.7" fill="url(#gP)" stroke="#4a2e74" stroke-width="0.5" stroke-opacity="0.55"/><polygon points="907.0,126.8 912.1,137.7 907.0,148.6" fill="#2a1050" fill-opacity="0.07"/><polygon points="931.1,133.1 936.2,145.3 931.1,157.4 926.1,145.3" fill="url(#gP)" stroke="#4a2e74" stroke-width="0.5" stroke-opacity="0.55"/><polygon points="931.1,133.1 936.2,145.3 931.1,157.4" fill="#2a1050" fill-opacity="0.07"/><polygon points="903.7,138.4 911.2,154.4 903.7,170.3 896.2,154.4" fill="url(#gP)" stroke="#4a2e74" stroke-width="0.5" stroke-opacity="0.55"/><polygon points="903.7,138.4 911.2,154.4 903.7,170.3" fill="#2a1050" fill-opacity="0.07"/><polygon points="911.7,127.4 919.6,143.7 911.7,160.1 903.7,143.7" fill="url(#gP)" stroke="#4a2e74" stroke-width="0.5" stroke-opacity="0.55"/><polygon points="911.7,127.4 919.6,143.7 911.7,160.1" fill="#2a1050" fill-opacity="0.07"/><polygon points="927.2,135.0 934.5,151.3 927.2,167.7 920.0,151.3" fill="url(#gP)" stroke="#4a2e74" stroke-width="0.5" stroke-opacity="0.55"/><polygon points="927.2,135.0 934.5,151.3 927.2,167.7" fill="#2a1050" fill-opacity="0.07"/><polygon points="933.6,148.3 939.7,163.5 933.6,178.6 927.5,163.5" fill="url(#gP)" stroke="#4a2e74" stroke-width="0.5" stroke-opacity="0.55"/><polygon points="933.6,148.3 939.7,163.5 933.6,178.6" fill="#2a1050" fill-opacity="0.07"/><polygon points="918.9,147.5 926.8,163.9 918.9,180.3 910.9,163.9" fill="url(#gP)" stroke="#4a2e74" stroke-width="0.5" stroke-opacity="0.55"/><polygon points="918.9,147.5 926.8,163.9 918.9,180.3" fill="#2a1050" fill-opacity="0.07"/><polygon points="902.7,157.1 909.2,171.0 902.7,185.0 896.2,171.0" fill="url(#gP)" stroke="#4a2e74" stroke-width="0.5" stroke-opacity="0.55"/><polygon points="902.7,157.1 909.2,171.0 902.7,185.0" fill="#2a1050" fill-opacity="0.07"/><polygon points="908.8,161.2 916.7,176.3 908.8,191.5 900.8,176.3" fill="url(#gP)" stroke="#4a2e74" stroke-width="0.5" stroke-opacity="0.55"/><polygon points="908.8,161.2 916.7,176.3 908.8,191.5" fill="#2a1050" fill-opacity="0.07"/><polygon points="927.2,160.4 934.8,176.3 927.2,192.3 919.7,176.3" fill="url(#gP)" stroke="#4a2e74" stroke-width="0.5" stroke-opacity="0.55"/><polygon points="927.2,160.4 934.8,176.3 927.2,192.3" fill="#2a1050" fill-opacity="0.07"/><polygon points="912.4,175.1 917.9,187.3 912.4,199.4 906.9,187.3" fill="url(#gP)" stroke="#4a2e74" stroke-width="0.5" stroke-opacity="0.55"/><polygon points="912.4,175.1 917.9,187.3 912.4,199.4" fill="#2a1050" fill-opacity="0.07"/><polygon points="924.4,174.8 929.8,187.3 924.4,199.7 918.9,187.3" fill="url(#gP)" stroke="#4a2e74" stroke-width="0.5" stroke-opacity="0.55"/><polygon points="924.4,174.8 929.8,187.3 924.4,199.7" fill="#2a1050" fill-opacity="0.07"/><polygon points="918.4,172.1 925.4,188.5 918.4,204.8 911.5,188.5" fill="url(#gP)" stroke="#4a2e74" stroke-width="0.5" stroke-opacity="0.55"/><polygon points="918.4,172.1 925.4,188.5 918.4,204.8" fill="#2a1050" fill-opacity="0.07"/></g><g><circle cx="660.3" cy="32.7" r="2" fill="#1a1af5"/><circle cx="663.1" cy="37.8" r="2" fill="#1a1af5"/><circle cx="666.0" cy="42.8" r="2" fill="#1a1af5"/><circle cx="668.8" cy="47.9" r="2" fill="#1a1af5"/><circle cx="671.6" cy="53.0" r="2" fill="#1a1af5"/><circle cx="674.5" cy="58.0" r="2" fill="#1a1af5"/><circle cx="677.3" cy="63.1" r="2" fill="#1a1af5"/><circle cx="680.2" cy="68.1" r="2" fill="#1a1af5"/><circle cx="683.0" cy="73.2" r="2" fill="#1a1af5"/><circle cx="680.2" cy="78.7" r="2" fill="#1a1af5"/><circle cx="677.5" cy="84.2" r="2" fill="#1a1af5"/><circle cx="674.8" cy="89.6" r="2" fill="#1a1af5"/><circle cx="672.0" cy="95.1" r="2" fill="#1a1af5"/><circle cx="669.2" cy="100.6" r="2" fill="#1a1af5"/><circle cx="666.5" cy="106.0" r="2" fill="#1a1af5"/><circle cx="663.8" cy="111.5" r="2" fill="#1a1af5"/><circle cx="661.0" cy="117.0" r="2" fill="#1a1af5"/><circle cx="657.5" cy="111.6" r="2" fill="#1a1af5"/><circle cx="654.0" cy="106.2" r="2" fill="#1a1af5"/><circle cx="650.6" cy="100.8" r="2" fill="#1a1af5"/><circle cx="647.1" cy="95.3" r="2" fill="#1a1af5"/><circle cx="643.6" cy="89.9" r="2" fill="#1a1af5"/><circle cx="640.2" cy="84.5" r="2" fill="#1a1af5"/><circle cx="636.7" cy="79.1" r="2" fill="#1a1af5"/><circle cx="633.2" cy="73.7" r="2" fill="#1a1af5"/><circle cx="636.6" cy="68.6" r="2" fill="#1a1af5"/><circle cx="640.0" cy="63.5" r="2" fill="#1a1af5"/><circle cx="643.4" cy="58.3" r="2" fill="#1a1af5"/><circle cx="646.8" cy="53.2" r="2" fill="#1a1af5"/><circle cx="650.1" cy="48.1" r="2" fill="#1a1af5"/><circle cx="653.5" cy="43.0" r="2" fill="#1a1af5"/><circle cx="656.9" cy="37.8" r="2" fill="#1a1af5"/></g><g><circle cx="904.5" cy="34.2" r="2" fill="#1a1af5"/><circle cx="907.4" cy="39.3" r="2" fill="#1a1af5"/><circle cx="910.2" cy="44.5" r="2" fill="#1a1af5"/><circle cx="913.0" cy="49.6" r="2" fill="#1a1af5"/><circle cx="915.9" cy="54.8" r="2" fill="#1a1af5"/><circle cx="918.8" cy="59.9" r="2" fill="#1a1af5"/><circle cx="921.6" cy="65.0" r="2" fill="#1a1af5"/><circle cx="924.4" cy="70.2" r="2" fill="#1a1af5"/><circle cx="927.3" cy="75.3" r="2" fill="#1a1af5"/><circle cx="924.5" cy="80.8" r="2" fill="#1a1af5"/><circle cx="921.8" cy="86.3" r="2" fill="#1a1af5"/><circle cx="919.0" cy="91.8" r="2" fill="#1a1af5"/><circle cx="916.2" cy="97.3" r="2" fill="#1a1af5"/><circle cx="913.5" cy="102.8" r="2" fill="#1a1af5"/><circle cx="910.7" cy="108.3" r="2" fill="#1a1af5"/><circle cx="908.0" cy="113.8" r="2" fill="#1a1af5"/><circle cx="905.2" cy="119.3" r="2" fill="#1a1af5"/><circle cx="901.8" cy="113.9" r="2" fill="#1a1af5"/><circle cx="898.4" cy="108.5" r="2" fill="#1a1af5"/><circle cx="895.0" cy="103.1" r="2" fill="#1a1af5"/><circle cx="891.6" cy="97.7" r="2" fill="#1a1af5"/><circle cx="888.2" cy="92.2" r="2" fill="#1a1af5"/><circle cx="884.8" cy="86.8" r="2" fill="#1a1af5"/><circle cx="881.4" cy="81.4" r="2" fill="#1a1af5"/><circle cx="878.0" cy="76.0" r="2" fill="#1a1af5"/><circle cx="881.3" cy="70.8" r="2" fill="#1a1af5"/><circle cx="884.6" cy="65.5" r="2" fill="#1a1af5"/><circle cx="887.9" cy="60.3" r="2" fill="#1a1af5"/><circle cx="891.2" cy="55.1" r="2" fill="#1a1af5"/><circle cx="894.6" cy="49.9" r="2" fill="#1a1af5"/><circle cx="897.9" cy="44.7" r="2" fill="#1a1af5"/><circle cx="901.2" cy="39.4" r="2" fill="#1a1af5"/></g></g><defs><radialGradient id="by" cx="0.38" cy="0.32" r="0.7"><stop offset="0" stop-color="#ffff9a"/><stop offset="0.45" stop-color="#e6e020"/><stop offset="1" stop-color="#8c8a08"/></radialGradient><radialGradient id="byd" cx="0.38" cy="0.32" r="0.7"><stop offset="0" stop-color="#c8c850"/><stop offset="0.45" stop-color="#a09c18"/><stop offset="1" stop-color="#5c5a08"/></radialGradient><radialGradient id="bb" cx="0.38" cy="0.32" r="0.7"><stop offset="0" stop-color="#d4ccff"/><stop offset="0.45" stop-color="#6656d2"/><stop offset="1" stop-color="#34248e"/></radialGradient><radialGradient id="bb2" cx="0.38" cy="0.32" r="0.7"><stop offset="0" stop-color="#8090ff"/><stop offset="0.45" stop-color="#1830d0"/><stop offset="1" stop-color="#081070"/></radialGradient><linearGradient id="slab" x1="0" y1="0" x2="0" y2="1"><stop offset="0" stop-color="#9a9a9a"/><stop offset="0.7" stop-color="#8c8c8c"/><stop offset="1" stop-color="#707070"/></linearGradient><filter id="soft3" x="-3%" y="-3%" width="106%" height="106%"><feGaussianBlur stdDeviation="0.55"/></filter></defs><g id="panelC"><text class="lbl" transform="translate(370.2,249.6) scale(1.07,1)" font-size="24.8" stroke="#111" stroke-width="0.3">c)</text><text class="lbl" x="362.8" y="288" font-size="17.4" stroke="#111" stroke-width="0.45">NASICON LATP electrolyte</text><g filter="url(#soft3)"><path d="M362.6 556.2 A95.6 4.6 0 0 1 553.8 556.2 V570.3 A95.6 4.4 0 0 1 362.6 570.3 Z" fill="url(#slab)" stroke="#555" stroke-width="0.9"/><ellipse cx="458.2" cy="556.2" rx="95.4" ry="4.5" fill="#ababab"/><line x1="382.2" y1="303.2" x2="482.2" y2="300.3" stroke="#8c88f0" stroke-width="1.1" stroke-dasharray="1.5 1.5"/><line x1="482.2" y1="300.3" x2="529.0" y2="310.2" stroke="#8c88f0" stroke-width="1.1" stroke-dasharray="1.5 1.5"/><line x1="529.0" y1="310.2" x2="428.3" y2="312.4" stroke="#8c88f0" stroke-width="1.1" stroke-dasharray="1.5 1.5"/><line x1="428.3" y1="312.4" x2="382.2" y2="303.2" stroke="#8c88f0" stroke-width="1.1" stroke-dasharray="1.5 1.5"/><line x1="382.2" y1="303.2" x2="388.4" y2="550.2" stroke="#8c88f0" stroke-width="1.1" stroke-dasharray="1.5 1.5"/><line x1="428.3" y1="312.4" x2="435.4" y2="559.4" stroke="#8c88f0" stroke-width="1.1" stroke-dasharray="1.5 1.5"/><line x1="482.2" y1="300.3" x2="486.5" y2="548.5" stroke="#8c88f0" stroke-width="1.1" stroke-dasharray="1.5 1.5"/><line x1="529.0" y1="310.2" x2="535.1" y2="557.5" stroke="#8c88f0" stroke-width="1.1" stroke-dasharray="1.5 1.5"/><line x1="388.4" y1="550.2" x2="435.4" y2="559.4" stroke="#8c88f0" stroke-width="1.1" stroke-dasharray="1.5 1.5"/><line x1="435.4" y1="559.4" x2="535.1" y2="557.5" stroke="#8c88f0" stroke-width="1.1" stroke-dasharray="1.5 1.5"/><line x1="388.4" y1="550.2" x2="486.5" y2="548.5" stroke="#8c88f0" stroke-width="1.1" stroke-dasharray="1.5 1.5"/><line x1="486.5" y1="548.5" x2="535.1" y2="557.5" stroke="#8c88f0" stroke-width="1.1" stroke-dasharray="1.5 1.5"/><line x1="388.4" y1="550.2" x2="535.1" y2="557.5" stroke="#8c88f0" stroke-width="1.1" stroke-dasharray="1.5 1.5"/><polygon points="420.6,298.4 450.3,299.2 444.8,326.3 415.1,323.0" fill="#3ceef6" /><polygon points="420.6,298.4 450.3,299.2 444.8,326.3" fill="#33dde6" /><polygon points="450.3,299.2 444.8,326.3 439.8,314.2" fill="#33d4dc" /><polygon points="465.7,320.8 489.4,319.7 492.5,343.2 469.0,344.1" fill="#3ceef6" /><polygon points="489.4,323.0 501.3,347.6 492.1,347.6" fill="#2ab2ba" /><polygon points="478.2,341.2 488.3,330.2 489.0,342.3" fill="#2ab2ba" /><polygon points="424.6,365.4 449.2,365.4 448.1,390.0 426.6,388.9" fill="#3fe4ec" /><polygon points="447.0,310.9 461.3,315.3 462.4,342.7 440.4,330.7" fill="#d66e16" /><polygon points="447.0,310.9 461.3,315.9 451.4,325.2 441.1,330.2" fill="#fb8a1a" /><polygon points="454.7,363.6 469.0,355.9 475.6,377.9" fill="#d66e16" /><polygon points="498.7,404.3 515.1,393.3 516.2,419.7" fill="#d66e16" /><polygon points="365.7,324.1 388.8,322.3 402.0,348.2 374.5,352.6" fill="#3ceef6" /><polygon points="388.8,322.3 402.0,348.2 374.5,352.6" fill="#2ab2ba" /><polygon points="412.5,333.3 442.6,330.7 449.2,355.9 423.9,361.9" fill="#3ceef6" /><polygon points="442.6,330.7 449.2,355.9 423.9,361.9" fill="#2ab2ba" /><polygon points="463.5,343.8 490.3,341.6 499.8,365.8 472.3,371.8" fill="#3ceef6" /><polygon points="490.3,341.6 499.8,365.8 472.3,371.8" fill="#2ab2ba" /><polygon points="511.8,331.8 541.5,329.1 548.5,355.9 520.6,359.9" fill="#3ceef6" /><polygon points="541.5,329.1 548.5,355.9 520.6,359.9" fill="#2ab2ba" /><polygon points="372.3,377.5 403.1,379.0 396.5,408.7 367.9,405.4" fill="#3ceef6" /><polygon points="372.3,377.5 403.1,379.0 396.5,408.7" fill="#33dde6" /><polygon points="415.6,388.9 449.9,387.8 443.7,417.5 417.3,416.8" fill="#3ceef6" /><polygon points="415.6,388.9 449.9,387.8 443.7,417.5" fill="#33dde6" /><polygon points="475.6,375.7 503.1,376.8 498.7,406.5 467.9,404.3" fill="#3ceef6" /><polygon points="475.6,375.7 503.1,376.8 498.7,406.5" fill="#33dde6" /><polygon points="520.6,384.5 549.6,385.6 543.7,415.3 515.1,413.1" fill="#3ceef6" /><polygon points="520.6,384.5 549.6,385.6 543.7,415.3" fill="#33dde6" /><polygon points="388.8,314.2 414.0,328.5 393.2,343.8" fill="#fb8a1a" /><polygon points="488.8,312.0 514.0,325.2 486.6,332.9" fill="#ffa21e" /><polygon points="486.6,332.9 514.0,325.2 509.6,332.9 489.9,344.9" fill="#d66e16" /><polygon points="402.0,351.5 423.9,363.0 399.8,372.4" fill="#fb8a1a" /><polygon points="399.8,372.4 423.9,363.0 421.7,386.7" fill="#ffa21e" /><polygon points="449.2,360.3 472.3,374.6 449.2,388.9" fill="#ffa21e" /><polygon points="500.9,369.1 522.8,359.2 521.7,384.5" fill="#ffa21e" /><polygon points="522.8,359.2 525.7,369.1 521.7,384.5" fill="#d66e16" /><polygon points="394.3,409.8 416.2,395.5 416.2,421.9" fill="#d66e16" /><polygon points="450.3,395.5 466.8,404.7 445.9,413.1" fill="#ffa21e" /><polygon points="445.9,413.1 466.8,404.7 442.6,424.5" fill="#d66e16" /><polygon points="489.9,402.1 515.4,414.6 492.1,430.7" fill="#fb8a1a" /><polygon points="465.1,410.3 488.9,409.1 502.0,436.5 473.3,440.4" fill="#3ceef6" /><polygon points="488.9,409.1 502.0,436.5 473.3,440.4" fill="#2ab2ba" /><polygon points="477.2,443.1 502.0,444.3 501.6,468.7 479.7,467.4" fill="#33d4dc" /><polygon points="418.8,490.6 443.2,489.3 454.1,513.7 428.6,517.3" fill="#40e8f0" /><polygon points="441.0,492.7 454.1,513.7 433.4,515.4" fill="#2ab2ba" /><polygon points="450.5,482.0 468.7,473.5 469.9,499.1" fill="#d66e16" /><polygon points="409.1,435.8 423.2,440.0 423.7,454.1 401.8,440.7" fill="#d66e16" /><polygon points="416.4,421.2 448.0,421.2 451.7,446.8 423.7,451.6" fill="#3ceef6" /><polygon points="441.9,421.2 451.7,446.8 431.0,451.1" fill="#2ab2ba" /><polygon points="373.8,446.8 403.0,445.5 396.9,480.8 368.9,474.0" fill="#3ceef6" /><polygon points="373.8,446.8 403.0,445.5 396.9,480.8" fill="#33dde6" /><polygon points="417.6,456.5 451.7,455.3 443.2,485.2 416.4,483.7" fill="#3ceef6" /><polygon points="417.6,456.5 451.7,455.3 443.2,485.2" fill="#33dde6" /><polygon points="468.7,468.7 503.3,466.2 496.7,493.0 468.7,494.2" fill="#3ceef6" /><polygon points="468.7,468.7 503.3,466.2 496.7,493.0" fill="#33dde6" /><polygon points="522.2,452.6 550.9,453.8 543.4,483.3 515.2,481.3" fill="#3ceef6" /><polygon points="522.2,452.6 550.9,453.8 543.4,483.3" fill="#33dde6" /><polygon points="370.2,502.7 396.9,501.5 405.4,528.3 377.5,531.9" fill="#3ceef6" /><polygon points="396.9,501.5 405.4,528.3 377.5,531.9" fill="#2ab2ba" /><polygon points="416.4,512.5 445.6,510.5 451.7,534.4 426.1,541.7" fill="#3ceef6" /><polygon points="445.6,510.5 451.7,534.4 426.1,541.7" fill="#2ab2ba" /><polygon points="469.9,500.3 499.1,499.1 505.2,525.8 479.7,529.5" fill="#33d4dc" /><polygon points="499.1,499.1 505.2,525.8 479.7,529.5" fill="#2ab2ba" /><polygon points="516.2,510.5 545.3,508.1 551.4,528.3 524.7,539.2" fill="#3ceef6" /><polygon points="545.3,508.1 551.4,528.3 524.7,539.2" fill="#2ab2ba" /><polygon points="474.8,533.1 503.3,534.4 501.1,552.6 470.4,552.6" fill="#3ceef6" /><polygon points="470.4,552.6 501.1,552.6 499.1,563.6 468.7,561.1" fill="#2f9ea4" /><polygon points="489.9,402.1 515.4,414.6 492.1,430.7" fill="#fb8a1a" /><polygon points="401.8,440.7 423.7,454.1 404.2,467.4" fill="#ffa21e" /><polygon points="451.7,456.0 477.2,440.7 476.5,456.5" fill="#ffb42a" /><polygon points="451.7,456.0 476.5,456.5 475.8,468.2" fill="#c8681a" /><polygon points="477.2,440.7 479.4,465.0 476.0,467.4" fill="#d66e16" /><polygon points="501.6,438.2 523.5,451.6 503.3,466.2" fill="#ffa21e" /><polygon points="393.8,476.4 416.9,490.3 393.0,494.0" fill="#ffa21e" /><polygon points="393.0,494.0 416.9,490.3 395.7,503.9" fill="#b85e14" /><polygon points="441.9,483.7 467.5,496.6 445.6,510.0" fill="#fb8a1a" /><polygon points="494.3,496.6 514.9,482.0 516.2,514.9" fill="#d66e16" /><polygon points="497.9,478.4 513.7,482.8 504.0,491.0" fill="#ffa21e" /><polygon points="404.2,534.4 422.5,522.2 429.8,547.7" fill="#d66e16" /><polygon points="404.2,534.4 422.5,522.2 417.6,534.8" fill="#ffa21e" /><polygon points="455.3,518.5 477.2,532.4 451.7,536.8" fill="#ffa21e" /><polygon points="451.7,536.8 477.2,532.4 474.8,553.8" fill="#fb8a1a" /><polygon points="504.0,533.1 519.8,523.4 528.3,544.1" fill="#d66e16" /><polygon points="508.4,530.0 519.8,523.4 520.5,534.4" fill="#ffa21e" /><circle cx="410.3" cy="324.1" r="3.9" fill="url(#bb)"/><circle cx="425.5" cy="329.6" r="3.9" fill="url(#bb)"/><circle cx="456.9" cy="333.3" r="3.9" fill="url(#bb)"/><circle cx="525.5" cy="326.9" r="3.9" fill="url(#bb)"/><circle cx="438.9" cy="363.6" r="3.9" fill="url(#bb)"/><circle cx="404.2" cy="368.0" r="3.9" fill="url(#bb)"/><circle cx="485.5" cy="373.1" r="3.9" fill="url(#bb)"/><circle cx="504.2" cy="366.5" r="3.9" fill="url(#bb)"/><circle cx="410.1" cy="413.7" r="3.9" fill="url(#bb)"/><circle cx="459.1" cy="413.5" r="3.9" fill="url(#bb)"/><circle cx="478.4" cy="406.9" r="3.9" fill="url(#bb)"/><circle cx="509.6" cy="410.4" r="3.9" fill="url(#bb)"/><circle cx="457.8" cy="446.3" r="3.9" fill="url(#bb)"/><circle cx="439.0" cy="452.8" r="3.9" fill="url(#bb)"/><circle cx="504.7" cy="456.5" r="3.9" fill="url(#bb)"/><circle cx="431.7" cy="488.1" r="3.9" fill="url(#bb)"/><circle cx="413.5" cy="493.7" r="3.9" fill="url(#bb)"/><circle cx="463.4" cy="491.0" r="3.9" fill="url(#bb)"/><circle cx="478.9" cy="497.1" r="3.9" fill="url(#bb)"/><circle cx="392.1" cy="532.7" r="3.9" fill="url(#bb)"/><circle cx="457.8" cy="535.6" r="3.9" fill="url(#bb)"/><circle cx="491.8" cy="530.7" r="3.9" fill="url(#bb)"/><circle cx="508.1" cy="536.1" r="3.9" fill="url(#bb)"/><circle cx="382.2" cy="303.2" r="4.3" fill="url(#by)"/><circle cx="428.3" cy="312.4" r="4.3" fill="url(#by)"/><circle cx="482.2" cy="300.3" r="4.3" fill="url(#by)"/><circle cx="529.0" cy="310.2" r="4.3" fill="url(#by)"/><circle cx="482.2" cy="390.0" r="4.3" fill="url(#by)"/><circle cx="385.5" cy="426.8" r="4.3" fill="url(#by)"/><circle cx="432.2" cy="435.8" r="4.3" fill="url(#by)"/><circle cx="532.0" cy="433.4" r="4.3" fill="url(#by)"/><circle cx="485.7" cy="513.7" r="4.3" fill="url(#by)"/><circle cx="388.4" cy="550.2" r="4.3" fill="url(#by)"/><circle cx="435.4" cy="559.4" r="4.3" fill="url(#byd)"/><circle cx="535.1" cy="557.5" r="4.3" fill="url(#byd)"/></g><text class="lbl" x="412.4" y="588.8" font-size="17.5" stroke="#111" stroke-width="0.5">Graphite</text><text class="lbl" x="359.8" y="606.3" font-size="14.2" stroke="#111" stroke-width="0.45">Direct fabrication by hydrothermal</text><g filter="url(#soft)"><circle cx="562.5" cy="448.4" r="5" fill="url(#by)"/><circle cx="562.5" cy="474.8" r="5" fill="url(#bb2)"/><polygon points="563.3,493.3 557.3,516.9 576.2,516.4" fill="#e21408"/><polygon points="563.3,493.3 550.8,510.6 557.3,516.9" fill="#ff9a1c"/><polygon points="563.3,493.3 557.3,516.9 561,516.8" fill="#c01008" fill-opacity="0.6"/><polygon points="553.4,533 575.4,534.4 571.4,557 550.3,554" fill="#3ceef6"/><polygon points="553.4,533 571.4,557 550.3,554" fill="#35dce4"/></g><text font-family="'Liberation Serif',serif" font-weight="bold" fill="#111" stroke="#111" stroke-width="0.2" x="578" y="454.4" font-size="12.9" letter-spacing="0.15">Li1(6b)</text><text font-family="'Liberation Serif',serif" font-weight="bold" fill="#111" stroke="#111" stroke-width="0.2" x="578" y="481.2" font-size="12.9" letter-spacing="0.25">Li2(18e)</text><text font-family="'Liberation Serif',serif" font-weight="bold" fill="#111" stroke="#111" stroke-width="0.2" x="576.4" y="511.2" font-size="12.6">PO<tspan font-size="8.5" dy="2.5">4</tspan></text><text font-family="'Liberation Serif',serif" font-weight="bold" fill="#111" stroke="#111" stroke-width="0.2" x="577.2" y="546.4" font-size="12.4">TiO<tspan font-size="8.2" dy="2.5">6</tspan><tspan dy="-2.5">(AlO</tspan><tspan font-size="8.2" dy="2.5">6</tspan><tspan dy="-2.5">)</tspan></text><path d="M659 271.1 L645 272.4 Q639.9 273 639.9 278 V425.5 Q639.9 430 634 430.3 H613.3 M634 430.3 Q639.9 430.6 639.9 435 V582.5 Q639.9 587 644.5 587.6 L659.5 589.4" fill="none" stroke="#f80808" stroke-width="2.7" stroke-linecap="round" stroke-linejoin="round"/><rect x="660.7" y="247.4" width="363.4" height="362.4" fill="none" stroke="#f80808" stroke-width="2.15" stroke-dasharray="4.6 1.5"/></g><g id="charts"><path d="M707.6 253 H988.3" stroke="#111" stroke-width="1.6" fill="none"/><path d="M707.6 407 H988.3" stroke="#111" stroke-width="1.6" fill="none"/><path d="M707.6 252.3 V407.7" stroke="#f00" stroke-width="1.6" fill="none"/><path d="M988.3 252.3 V407.7" stroke="#1414f0" stroke-width="1.6" fill="none"/><path d="M707.3 407 v-2.6" stroke="#111" stroke-width="1.1"/><text font-family="'Liberation Sans',sans-serif" font-weight="bold" stroke-width="0.25" x="707.3" y="418.2" font-size="9.8" text-anchor="middle" fill="#111" stroke="#111">0</text><path d="M752.6 407 v-2.6" stroke="#111" stroke-width="1.1"/><text font-family="'Liberation Sans',sans-serif" font-weight="bold" stroke-width="0.25" x="752.6" y="418.2" font-size="9.8" text-anchor="middle" fill="#111" stroke="#111">5</text><path d="M798.0 407 v-2.6" stroke="#111" stroke-width="1.1"/><text font-family="'Liberation Sans',sans-serif" font-weight="bold" stroke-width="0.25" x="798.0" y="418.2" font-size="9.8" text-anchor="middle" fill="#111" stroke="#111">10</text><path d="M843.3 407 v-2.6" stroke="#111" stroke-width="1.1"/><text font-family="'Liberation Sans',sans-serif" font-weight="bold" stroke-width="0.25" x="843.3" y="418.2" font-size="9.8" text-anchor="middle" fill="#111" stroke="#111">15</text><path d="M888.7 407 v-2.6" stroke="#111" stroke-width="1.1"/><text font-family="'Liberation Sans',sans-serif" font-weight="bold" stroke-width="0.25" x="888.7" y="418.2" font-size="9.8" text-anchor="middle" fill="#111" stroke="#111">20</text><path d="M934.0 407 v-2.6" stroke="#111" stroke-width="1.1"/><text font-family="'Liberation Sans',sans-serif" font-weight="bold" stroke-width="0.25" x="934.0" y="418.2" font-size="9.8" text-anchor="middle" fill="#111" stroke="#111">25</text><path d="M979.4 407 v-2.6" stroke="#111" stroke-width="1.1"/><text font-family="'Liberation Sans',sans-serif" font-weight="bold" stroke-width="0.25" x="979.4" y="418.2" font-size="9.8" text-anchor="middle" fill="#111" stroke="#111">30</text><path d="M730.0 407 v-1.6" stroke="#111" stroke-width="1"/><path d="M775.3 407 v-1.6" stroke="#111" stroke-width="1"/><path d="M820.7 407 v-1.6" stroke="#111" stroke-width="1"/><path d="M866.0 407 v-1.6" stroke="#111" stroke-width="1"/><path d="M911.4 407 v-1.6" stroke="#111" stroke-width="1"/><path d="M956.7 407 v-1.6" stroke="#111" stroke-width="1"/><text font-family="'Liberation Sans',sans-serif" font-weight="bold" stroke-width="0.25" x="848" y="431.8" font-size="10.2" text-anchor="middle" fill="#111" stroke="#111">Cycle Number</text><path d="M707.6 393.7 h2.6" stroke="#f00" stroke-width="1.1"/><text font-family="'Liberation Sans',sans-serif" font-weight="bold" stroke-width="0.25" x="705.3" y="397.1" font-size="9.6" text-anchor="end" fill="#f00" stroke="#f00">60</text><path d="M707.6 367.9 h2.6" stroke="#f00" stroke-width="1.1"/><text font-family="'Liberation Sans',sans-serif" font-weight="bold" stroke-width="0.25" x="705.3" y="371.3" font-size="9.6" text-anchor="end" fill="#f00" stroke="#f00">80</text><path d="M707.6 342.1 h2.6" stroke="#f00" stroke-width="1.1"/><text font-family="'Liberation Sans',sans-serif" font-weight="bold" stroke-width="0.25" x="705.3" y="345.5" font-size="9.6" text-anchor="end" fill="#f00" stroke="#f00">100</text><path d="M707.6 316.4 h2.6" stroke="#f00" stroke-width="1.1"/><text font-family="'Liberation Sans',sans-serif" font-weight="bold" stroke-width="0.25" x="705.3" y="319.8" font-size="9.6" text-anchor="end" fill="#f00" stroke="#f00">120</text><path d="M707.6 290.6 h2.6" stroke="#f00" stroke-width="1.1"/><text font-family="'Liberation Sans',sans-serif" font-weight="bold" stroke-width="0.25" x="705.3" y="294.0" font-size="9.6" text-anchor="end" fill="#f00" stroke="#f00">140</text><path d="M707.6 264.8 h2.6" stroke="#f00" stroke-width="1.1"/><text font-family="'Liberation Sans',sans-serif" font-weight="bold" stroke-width="0.25" x="705.3" y="268.2" font-size="9.6" text-anchor="end" fill="#f00" stroke="#f00">160</text><path d="M707.6 380.8 h1.6" stroke="#f00" stroke-width="1"/><path d="M707.6 355.0 h1.6" stroke="#f00" stroke-width="1"/><path d="M707.6 329.2 h1.6" stroke="#f00" stroke-width="1"/><path d="M707.6 303.5 h1.6" stroke="#f00" stroke-width="1"/><path d="M707.6 277.7 h1.6" stroke="#f00" stroke-width="1"/><path d="M988.3 406.5 h-2.6" stroke="#1414f0" stroke-width="1.1"/><text font-family="'Liberation Sans',sans-serif" font-weight="bold" stroke-width="0.25" x="990.8" y="409.9" font-size="9.6" fill="#1414f0" stroke="#1414f0">0</text><path d="M988.3 377.0 h-2.6" stroke="#1414f0" stroke-width="1.1"/><text font-family="'Liberation Sans',sans-serif" font-weight="bold" stroke-width="0.25" x="990.8" y="380.4" font-size="9.6" fill="#1414f0" stroke="#1414f0">20</text><path d="M988.3 347.5 h-2.6" stroke="#1414f0" stroke-width="1.1"/><text font-family="'Liberation Sans',sans-serif" font-weight="bold" stroke-width="0.25" x="990.8" y="350.9" font-size="9.6" fill="#1414f0" stroke="#1414f0">40</text><path d="M988.3 317.9 h-2.6" stroke="#1414f0" stroke-width="1.1"/><text font-family="'Liberation Sans',sans-serif" font-weight="bold" stroke-width="0.25" x="990.8" y="321.3" font-size="9.6" fill="#1414f0" stroke="#1414f0">60</text><path d="M988.3 288.4 h-2.6" stroke="#1414f0" stroke-width="1.1"/><text font-family="'Liberation Sans',sans-serif" font-weight="bold" stroke-width="0.25" x="990.8" y="291.8" font-size="9.6" fill="#1414f0" stroke="#1414f0">80</text><path d="M988.3 258.9 h-2.6" stroke="#1414f0" stroke-width="1.1"/><text font-family="'Liberation Sans',sans-serif" font-weight="bold" stroke-width="0.25" x="990.8" y="262.3" font-size="9.6" fill="#1414f0" stroke="#1414f0">100</text><path d="M988.3 391.7 h-1.6" stroke="#1414f0" stroke-width="1"/><path d="M988.3 362.2 h-1.6" stroke="#1414f0" stroke-width="1"/><path d="M988.3 332.7 h-1.6" stroke="#1414f0" stroke-width="1"/><path d="M988.3 303.2 h-1.6" stroke="#1414f0" stroke-width="1"/><path d="M988.3 273.7 h-1.6" stroke="#1414f0" stroke-width="1"/><text font-family="'Liberation Sans',sans-serif" font-weight="bold" stroke-width="0.25" transform="translate(682.0,336.8) rotate(-90)" font-size="10.3" text-anchor="middle" fill="#f00" stroke="#f00">Specific Capacity (mAh g<tspan font-size="7" dy="-3.5">-1</tspan><tspan dy="3.5">)</tspan></text><text font-family="'Liberation Sans',sans-serif" font-weight="bold" stroke-width="0.25" transform="translate(1014.5,331.2) rotate(-90)" font-size="10.45" text-anchor="middle" fill="#1414f0" stroke="#1414f0">Columbic Efficiency (%)</text><defs><radialGradient id="dr" cx="0.4" cy="0.35" r="0.65"><stop offset="0" stop-color="#ff5a5a"/><stop offset="0.5" stop-color="#ff0808"/><stop offset="1" stop-color="#e00000"/></radialGradient><radialGradient id="db" cx="0.4" cy="0.35" r="0.65"><stop offset="0" stop-color="#5a5aff"/><stop offset="0.5" stop-color="#0c0cf4"/><stop offset="1" stop-color="#0000d0"/></radialGradient></defs><g filter="url(#soft)"><circle cx="716.4" cy="262.9" r="3.25" fill="url(#db)"/><circle cx="716.4" cy="302.7" r="3.25" fill="url(#dr)"/><circle cx="725.5" cy="265.2" r="3.25" fill="url(#db)"/><circle cx="725.5" cy="304.0" r="3.25" fill="url(#dr)"/><circle cx="734.5" cy="264.3" r="3.25" fill="url(#db)"/><circle cx="734.5" cy="305.5" r="3.25" fill="url(#dr)"/><circle cx="743.6" cy="264.3" r="3.25" fill="url(#db)"/><circle cx="743.6" cy="307.8" r="3.25" fill="url(#dr)"/><circle cx="752.7" cy="262.9" r="3.25" fill="url(#db)"/><circle cx="752.7" cy="307.8" r="3.25" fill="url(#dr)"/><circle cx="761.8" cy="264.3" r="3.25" fill="url(#db)"/><circle cx="761.8" cy="309.1" r="3.25" fill="url(#dr)"/><circle cx="770.8" cy="265.4" r="3.25" fill="url(#db)"/><circle cx="770.8" cy="310.7" r="3.25" fill="url(#dr)"/><circle cx="779.9" cy="262.9" r="3.25" fill="url(#db)"/><circle cx="779.9" cy="314.5" r="3.25" fill="url(#dr)"/><circle cx="789.0" cy="261.0" r="3.25" fill="url(#db)"/><circle cx="789.0" cy="311.6" r="3.25" fill="url(#dr)"/><circle cx="798.0" cy="264.3" r="3.25" fill="url(#db)"/><circle cx="798.0" cy="312.0" r="3.25" fill="url(#dr)"/><circle cx="807.1" cy="264.3" r="3.25" fill="url(#db)"/><circle cx="807.1" cy="310.7" r="3.25" fill="url(#dr)"/><circle cx="816.2" cy="262.9" r="3.25" fill="url(#db)"/><circle cx="816.2" cy="311.6" r="3.25" fill="url(#dr)"/><circle cx="825.2" cy="265.4" r="3.25" fill="url(#db)"/><circle cx="825.2" cy="313.5" r="3.25" fill="url(#dr)"/><circle cx="834.3" cy="264.3" r="3.25" fill="url(#db)"/><circle cx="834.3" cy="314.5" r="3.25" fill="url(#dr)"/><circle cx="843.4" cy="261.2" r="3.25" fill="url(#db)"/><circle cx="843.4" cy="314.9" r="3.25" fill="url(#dr)"/><circle cx="852.5" cy="264.3" r="3.25" fill="url(#db)"/><circle cx="852.5" cy="316.0" r="3.25" fill="url(#dr)"/><circle cx="861.5" cy="262.5" r="3.25" fill="url(#db)"/><circle cx="861.5" cy="317.4" r="3.25" fill="url(#dr)"/><circle cx="870.6" cy="265.2" r="3.25" fill="url(#db)"/><circle cx="870.6" cy="317.9" r="3.25" fill="url(#dr)"/><circle cx="879.7" cy="263.9" r="3.25" fill="url(#db)"/><circle cx="879.7" cy="316.8" r="3.25" fill="url(#dr)"/><circle cx="888.7" cy="263.9" r="3.25" fill="url(#db)"/><circle cx="888.7" cy="318.3" r="3.25" fill="url(#dr)"/><circle cx="897.8" cy="265.2" r="3.25" fill="url(#db)"/><circle cx="897.8" cy="318.9" r="3.25" fill="url(#dr)"/><circle cx="906.9" cy="263.9" r="3.25" fill="url(#db)"/><circle cx="906.9" cy="318.9" r="3.25" fill="url(#dr)"/><circle cx="915.9" cy="262.5" r="3.25" fill="url(#db)"/><circle cx="915.9" cy="318.9" r="3.25" fill="url(#dr)"/><circle cx="925.0" cy="262.5" r="3.25" fill="url(#db)"/><circle cx="925.0" cy="317.7" r="3.25" fill="url(#dr)"/><circle cx="934.1" cy="262.5" r="3.25" fill="url(#db)"/><circle cx="934.1" cy="317.9" r="3.25" fill="url(#dr)"/><circle cx="943.1" cy="264.3" r="3.25" fill="url(#db)"/><circle cx="943.1" cy="318.7" r="3.25" fill="url(#dr)"/><circle cx="952.2" cy="263.5" r="3.25" fill="url(#db)"/><circle cx="952.2" cy="319.8" r="3.25" fill="url(#dr)"/><circle cx="961.3" cy="262.3" r="3.25" fill="url(#db)"/><circle cx="961.3" cy="321.8" r="3.25" fill="url(#dr)"/><circle cx="970.4" cy="263.9" r="3.25" fill="url(#db)"/><circle cx="970.4" cy="322.1" r="3.25" fill="url(#dr)"/><circle cx="979.4" cy="262.9" r="3.25" fill="url(#db)"/><circle cx="979.4" cy="323.1" r="3.25" fill="url(#dr)"/></g><text class="lbl" x="720.7" y="288.8" font-size="13.2" stroke="#111" stroke-width="0.2">Cell LiFePO<tspan font-size="9" dy="2.5">4</tspan><tspan dy="-2.5">/LATP/graphite</tspan></text><defs><clipPath id="c1"><rect x="714" y="323.3" width="115.2" height="77.6"/></clipPath><clipPath id="c2"><rect x="834.8" y="324.4" width="115.8" height="77"/></clipPath><filter id="b1" x="-5%" y="-5%" width="110%" height="110%"><feGaussianBlur stdDeviation="0.8"/></filter><filter id="nz" x="0" y="0" width="100%" height="100%"><feTurbulence type="fractalNoise" baseFrequency="0.9" numOctaves="2" seed="3" result="n"/><feColorMatrix in="n" type="matrix" values="0 0 0 0 0.5  0 0 0 0 0.5  0 0 0 0 0.5  0.9 0 0 0 -0.32"/><feComposite operator="in" in2="SourceGraphic"/></filter></defs><g clip-path="url(#c1)"><g filter="url(#b1)"><rect x="712" y="321" width="120" height="82" fill="#565656"/><polygon points="713.3,322.8 732.6,322.8 730.6,333.2 713.3,330.7" fill="#4c4c4c" /><polygon points="724.3,324.9 745.3,324.2 747.1,331.8 733.3,338.7" fill="#7c7c7c" /><polygon points="724.3,324.9 745.3,324.2 745.1,326.0 725.7,326.8" fill="#a8a8a8" /><polygon points="713.3,330.7 730.6,334.6 733.3,343.6 723.7,354.2 713.3,357.4" fill="#7e7e7e" /><polygon points="713.3,330.7 730.6,334.6 729.9,336.2 713.3,332.4" fill="#a2a2a2" /><polygon points="731.9,338.7 751.3,330.7 753.6,341.8 737.1,350.1" fill="#383838" /><polygon points="746.4,341.8 756.4,326.3 760.5,327.7 750.9,344.0" fill="#e6e6e6" /><polygon points="766.5,324.2 829.3,323.3 829.3,327.9 769.9,328.6" fill="#e2e2e2" /><polygon points="770.6,328.6 829.3,327.9 829.3,334.9 774.4,332.6" fill="#6e6e6e" /><polygon points="771.3,332.5 829.3,335.1 829.3,338.7 801.7,337.3" fill="#b4b4b4" /><polygon points="779.6,336.7 829.3,338.7 829.3,342.2 807.2,341.8" fill="#363636" /><polygon points="807.5,345.6 829.3,341.2 829.3,354.2 808.3,358.3" fill="#606060" /><polygon points="807.5,341.8 829.3,338.7 829.3,341.8 807.5,346.2" fill="#3a3a3a" /><polygon points="808.6,361.1 829.3,353.6 829.3,359.4 813.0,365.3" fill="#eeeeee" /><polygon points="810.0,363.6 815.8,362.2 825.5,378.8 818.6,381.8" fill="#e4e4e4" /><polygon points="815.8,362.2 829.3,359.2 829.3,377.7 825.5,378.8" fill="#525252" /><polygon points="801.7,384.6 829.3,378.5 829.3,400.9 801.7,400.9" fill="#484848" /><polygon points="811.4,396.8 829.3,386.0 829.3,391.2 815.5,400.9" fill="#dcdcdc" /><polygon points="818.3,400.9 829.3,393.3 829.3,400.9" fill="#9a9a9a" /><polygon points="713.3,359.4 737.1,358.1 741.2,377.7 723.2,384.6 713.3,373.5" fill="#747474" /><polygon points="718.8,373.3 739.8,378.8 741.2,387.4 721.9,382.9" fill="#939393" /><polygon points="713.3,380.4 746.7,384.6 750.9,400.9 713.3,400.9" fill="#424242" /><polygon points="746.7,387.1 764.7,392.6 763.3,400.9 746.7,400.9" fill="#6a6a6a" /><polygon points="765.8,392.6 802.0,389.8 804.8,400.9 765.8,400.9" fill="#494949" /><polygon points="767.2,392.6 774.4,393.4 774.4,400.9 767.2,400.9" fill="#8c8c8c" /><polygon points="776.8,391.9 808.6,376.7 810.0,382.9 782.4,395.4" fill="#333333" /><polygon points="737.5,351.2 769.9,335.3 807.2,352.5 774.1,366.4" fill="#8c8c8c" /><polygon points="737.5,351.2 774.1,366.4 775.5,391.5 741.6,377.7" fill="#868686" /><polygon points="774.1,366.4 807.2,352.5 808.6,376.3 775.5,391.5" fill="#8d8d8d" /><polyline points="737.5,351.2 774.1,366.4 807.2,352.5" fill="none" stroke="#c2c2c2" stroke-width="0.9"/><polyline points="774.1,366.4 775.5,391.5" fill="none" stroke="#b4b4b4" stroke-width="0.8"/><polyline points="737.5,351.2 769.9,335.3 807.2,352.5" fill="none" stroke="#b8b8b8" stroke-width="0.8"/><polygon points="740.9,355.3 749.2,357.4 750.6,365.0 743.0,363.6" fill="#626262" fill-opacity="0.55"/><polygon points="757.5,362.2 769.9,365.7 771.3,373.3 760.3,371.2" fill="#626262" fill-opacity="0.55"/><polygon points="758.9,373.3 769.9,377.4 771.3,385.7 761.6,382.9" fill="#626262" fill-opacity="0.55"/><polygon points="779.6,376.0 786.5,373.3 786.5,382.9 780.3,386.4" fill="#626262" fill-opacity="0.55"/><polygon points="765.8,359.4 776.8,358.1 774.1,363.6" fill="#626262" fill-opacity="0.55"/><polygon points="750.6,345.6 767.2,341.5 782.4,347.7 765.8,352.5" fill="#626262" fill-opacity="0.55"/><polygon points="743.7,369.1 752.0,371.9 753.4,377.4 745.1,375.3" fill="#626262" fill-opacity="0.55"/></g><rect x="714" y="323" width="116" height="78" fill="#fff" filter="url(#nz)" opacity="0.42"/></g><text font-family="'Liberation Serif',serif" x="720.2" y="396.8" font-size="11.4" fill="#eeece2" stroke="#eeece2" stroke-width="0.25">LATP</text><g clip-path="url(#c2)"><g filter="url(#b1)"><rect x="832" y="322" width="122" height="82" fill="#474747"/><rect x="832" y="322" width="122" height="17.8" fill="#1f1f1f"/><path d="M832 339.6 q6 -1.2 12 0 t12 0.2 q4 -1.6 8 -0.2 t14 0 t14 0.3 t14 -0.2 t12 0 q5 -1.8 9 0 t12 0 t12 0 V366 H832 Z" fill="#5c5c5c"/><path d="M832 365.6 q8 0.9 16 0 t16 0.3 t16 -0.2 t16 0.4 t16 -0.3 t16 0.2 t16 0 t10 0" stroke="#8a8a8a" stroke-width="1.1" fill="none"/><rect x="832" y="366.6" width="122" height="40" fill="#464646"/></g><rect x="834" y="324" width="118" height="78" fill="#fff" filter="url(#nz)" opacity="0.35"/></g><text font-family="'Liberation Serif',serif" x="837.2" y="358.2" font-size="9.8" fill="#e4e4e4" stroke="#e4e4e4" stroke-width="0.2">90μm</text><text font-family="'Liberation Serif',serif" x="889.3" y="358.8" font-size="10.3" fill="#ececec" stroke="#ececec" stroke-width="0.25">LATP film</text><text font-family="'Liberation Serif',serif" x="889.6" y="389.8" font-size="10" fill="#e6e6e6" stroke="#e6e6e6" stroke-width="0.25">Graphite</text><path d="M667.3 579.4 H983.3" stroke="#111" stroke-width="1.3" fill="none"/><path d="M668.2 579.4 v1.5" stroke="#111" stroke-width="1"/><path d="M699.7 579.4 v2.2" stroke="#111" stroke-width="1"/><path d="M731.1 579.4 v1.5" stroke="#111" stroke-width="1"/><path d="M762.6 579.4 v2.2" stroke="#111" stroke-width="1"/><path d="M794.0 579.4 v1.5" stroke="#111" stroke-width="1"/><path d="M825.5 579.4 v2.2" stroke="#111" stroke-width="1"/><path d="M857.0 579.4 v1.5" stroke="#111" stroke-width="1"/><path d="M888.4 579.4 v2.2" stroke="#111" stroke-width="1"/><path d="M919.9 579.4 v1.5" stroke="#111" stroke-width="1"/><path d="M951.3 579.4 v2.2" stroke="#111" stroke-width="1"/><path d="M982.8 579.4 v1.5" stroke="#111" stroke-width="1"/><text font-family="'Liberation Sans',sans-serif" font-weight="bold" stroke-width="0.25" x="699.7" y="591.6" font-size="9.4" text-anchor="middle" fill="#111" stroke="#111">-4</text><text font-family="'Liberation Sans',sans-serif" font-weight="bold" stroke-width="0.25" x="762.6" y="591.6" font-size="9.4" text-anchor="middle" fill="#111" stroke="#111">-2</text><text font-family="'Liberation Sans',sans-serif" font-weight="bold" stroke-width="0.25" x="825.5" y="591.6" font-size="9.4" text-anchor="middle" fill="#111" stroke="#111">0</text><text font-family="'Liberation Sans',sans-serif" font-weight="bold" stroke-width="0.25" x="888.4" y="591.6" font-size="9.4" text-anchor="middle" fill="#111" stroke="#111">2</text><text font-family="'Liberation Sans',sans-serif" font-weight="bold" stroke-width="0.25" x="951.3" y="591.6" font-size="9.4" text-anchor="middle" fill="#111" stroke="#111">4</text><polyline points="760.0,570.2 760.4,570.2 760.8,570.2 761.2,570.2 761.5,570.2 761.9,570.2 762.3,570.2 762.7,570.2 763.1,570.2 763.5,570.2 763.8,570.2 764.2,570.2 764.6,570.2 765.0,570.2 765.4,570.2 765.8,570.2 766.2,570.2 766.5,570.2 766.9,570.2 767.3,570.2 767.7,570.2 768.1,570.2 768.5,570.2 768.8,570.2 769.2,570.2 769.6,570.2 770.0,570.2 770.4,570.2 770.8,570.2 771.2,570.2 771.5,570.2 771.9,570.2 772.3,570.2 772.7,570.2 773.1,570.2 773.5,570.2 773.8,570.2 774.2,570.2 774.6,570.2 775.0,570.2 775.4,570.2 775.8,570.2 776.2,570.2 776.5,570.2 776.9,570.2 777.3,570.2 777.7,570.2 778.1,570.2 778.5,570.2 778.8,570.2 779.2,570.2 779.6,570.2 780.0,570.2 780.4,570.2 780.8,570.2 781.2,570.2 781.5,570.2 781.9,570.2 782.3,570.2 782.7,570.2 783.1,570.2 783.5,570.1 783.8,570.1 784.2,570.1 784.6,570.1 785.0,570.1 785.4,570.0 785.8,570.0 786.2,570.0 786.5,569.9 786.9,569.8 787.3,569.8 787.7,569.7 788.1,569.6 788.5,569.5 788.8,569.3 789.2,569.2 789.6,569.0 790.0,568.8 790.4,568.5 790.8,568.2 791.2,567.9 791.5,567.5 791.9,567.1 792.3,566.6 792.7,566.1 793.1,565.4 793.5,564.7 793.8,563.9 794.2,563.1 794.6,562.1 795.0,561.0 795.4,559.8 795.8,558.5 796.2,557.0 796.5,555.4 796.9,553.7 797.3,551.8 797.7,549.7 798.1,547.5 798.5,545.1 798.8,542.6 799.2,539.9 799.6,537.0 800.0,534.0 800.4,530.8 800.8,527.4 801.2,523.9 801.5,520.3 801.9,516.5 802.3,512.6 802.7,508.6 803.1,504.5 803.5,500.3 803.8,496.1 804.2,491.9 804.6,487.7 805.0,483.5 805.4,479.4 805.8,475.3 806.2,471.4 806.5,467.6 806.9,463.9 807.3,460.5 807.7,457.3 808.1,454.3 808.5,451.6 808.8,449.1 809.2,447.0 809.6,445.3 810.0,443.8 810.4,442.8 810.8,442.1 811.2,441.7 811.5,441.8 811.9,442.2 812.3,443.0 812.7,444.1 813.1,445.7 813.5,447.5 813.8,449.7 814.2,452.2 814.6,455.0 815.0,458.0 815.4,461.3 815.8,464.8 816.2,468.5 816.5,472.3 816.9,476.3 817.3,480.4 817.7,484.5 818.1,488.7 818.5,492.9 818.8,497.2 819.2,501.3 819.6,505.5 820.0,509.5 820.4,513.5 820.8,517.4 821.2,521.1 821.5,524.8 821.9,528.2 822.3,531.6 822.7,534.7 823.1,537.7 823.5,540.6 823.8,543.2 824.2,545.7 824.6,548.1 825.0,550.2 825.4,552.2 825.8,554.1 826.2,555.8 826.5,557.4 826.9,558.8 827.3,560.1 827.7,561.3 828.1,562.3 828.5,563.3 828.8,564.1 829.2,564.9 829.6,565.6 830.0,566.2 830.4,566.7 830.8,567.2 831.2,567.6 831.5,568.0 831.9,568.3 832.3,568.6 832.7,568.8 833.1,569.0 833.5,569.2 833.8,569.4 834.2,569.5 834.6,569.6 835.0,569.7 835.4,569.8 835.8,569.9 836.2,569.9 836.5,570.0 836.9,570.0 837.3,570.0 837.7,570.1 838.1,570.1 838.5,570.1 838.8,570.1 839.2,570.1 839.6,570.2 840.0,570.2 840.4,570.2 840.8,570.2 841.2,570.2 841.5,570.2 841.9,570.2 842.3,570.2 842.7,570.2 843.1,570.2 843.5,570.2 843.8,570.2 844.2,570.2 844.6,570.2 845.0,570.2 845.4,570.2 845.8,570.2 846.2,570.2 846.5,570.2 846.9,570.2 847.3,570.2 847.7,570.2 848.1,570.2 848.5,570.2 848.8,570.2 849.2,570.2 849.6,570.2 850.0,570.2 850.4,570.2 850.8,570.2 851.2,570.2 851.5,570.2 851.9,570.2 852.3,570.2 852.7,570.2 853.1,570.2 853.5,570.2 853.8,570.2 854.2,570.2 854.6,570.2 855.0,570.2 855.4,570.2 855.8,570.2 856.2,570.2 856.5,570.2 856.9,570.2 857.3,570.2 857.7,570.2 858.1,570.2 858.5,570.2 858.8,570.2 859.2,570.2 859.6,570.2 860.0,570.2" fill="none" stroke="#ff1010" stroke-width="0.9"/><polyline points="745.0,570.2 745.3,570.2 745.7,570.2 746.0,570.2 746.3,570.2 746.6,570.2 747.0,570.2 747.3,570.2 747.6,570.2 747.9,570.2 748.3,570.2 748.6,570.2 748.9,570.2 749.2,570.2 749.6,570.2 749.9,570.2 750.2,570.2 750.6,570.2 750.9,570.2 751.2,570.2 751.5,570.2 751.9,570.2 752.2,570.2 752.5,570.2 752.8,570.2 753.2,570.2 753.5,570.2 753.8,570.2 754.2,570.2 754.5,570.2 754.8,570.2 755.1,570.2 755.5,570.2 755.8,570.1 756.1,570.1 756.4,570.1 756.8,570.1 757.1,570.1 757.4,570.1 757.8,570.1 758.1,570.0 758.4,570.0 758.7,570.0 759.1,569.9 759.4,569.9 759.7,569.8 760.0,569.8 760.4,569.7 760.7,569.6 761.0,569.6 761.3,569.5 761.7,569.4 762.0,569.2 762.3,569.1 762.7,569.0 763.0,568.8 763.3,568.6 763.6,568.4 764.0,568.2 764.3,567.9 764.6,567.7 764.9,567.4 765.3,567.0 765.6,566.7 765.9,566.3 766.2,565.9 766.6,565.4 766.9,564.9 767.2,564.4 767.6,563.8 767.9,563.2 768.2,562.6 768.5,561.9 768.9,561.1 769.2,560.4 769.5,559.6 769.8,558.7 770.2,557.8 770.5,556.8 770.8,555.9 771.2,554.8 771.5,553.8 771.8,552.7 772.1,551.6 772.5,550.4 772.8,549.3 773.1,548.1 773.4,546.9 773.8,545.7 774.1,544.4 774.4,543.2 774.8,542.0 775.1,540.8 775.4,539.6 775.7,538.4 776.1,537.3 776.4,536.2 776.7,535.2 777.0,534.2 777.4,533.2 777.7,532.3 778.0,531.5 778.3,530.7 778.7,530.0 779.0,529.4 779.3,528.9 779.7,528.5 780.0,528.2 780.3,527.9 780.6,527.8 781.0,527.7 781.3,527.7 781.6,527.9 781.9,528.1 782.3,528.4 782.6,528.8 782.9,529.3 783.2,529.9 783.6,530.6 783.9,531.3 784.2,532.1 784.6,533.0 784.9,533.9 785.2,534.9 785.5,536.0 785.9,537.1 786.2,538.2 786.5,539.3 786.8,540.5 787.2,541.7 787.5,542.9 787.8,544.1 788.2,545.4 788.5,546.6 788.8,547.8 789.1,549.0 789.5,550.2 789.8,551.3 790.1,552.4 790.4,553.5 790.8,554.6 791.1,555.6 791.4,556.6 791.8,557.6 792.1,558.5 792.4,559.4 792.7,560.2 793.1,561.0 793.4,561.7 793.7,562.4 794.0,563.1 794.4,563.7 794.7,564.3 795.0,564.8 795.3,565.3 795.7,565.8 796.0,566.2 796.3,566.6 796.7,567.0 797.0,567.3 797.3,567.6 797.6,567.9 798.0,568.1 798.3,568.4 798.6,568.6 798.9,568.8 799.3,568.9 799.6,569.1 799.9,569.2 800.2,569.3 800.6,569.4 800.9,569.5 801.2,569.6 801.6,569.7 801.9,569.8 802.2,569.8 802.5,569.9 802.9,569.9 803.2,570.0 803.5,570.0 803.8,570.0 804.2,570.0 804.5,570.1 804.8,570.1 805.2,570.1 805.5,570.1 805.8,570.1 806.1,570.1 806.5,570.2 806.8,570.2 807.1,570.2 807.4,570.2 807.8,570.2 808.1,570.2 808.4,570.2 808.8,570.2 809.1,570.2 809.4,570.2 809.7,570.2 810.1,570.2 810.4,570.2 810.7,570.2 811.0,570.2 811.4,570.2 811.7,570.2 812.0,570.2 812.3,570.2 812.7,570.2 813.0,570.2 813.3,570.2 813.7,570.2 814.0,570.2 814.3,570.2 814.6,570.2 815.0,570.2 815.3,570.2 815.6,570.2 815.9,570.2 816.3,570.2 816.6,570.2 816.9,570.2 817.2,570.2 817.6,570.2 817.9,570.2 818.2,570.2 818.6,570.2 818.9,570.2 819.2,570.2 819.5,570.2 819.9,570.2 820.2,570.2 820.5,570.2 820.8,570.2 821.2,570.2 821.5,570.2 821.8,570.2 822.2,570.2 822.5,570.2 822.8,570.2 823.1,570.2 823.5,570.2 823.8,570.2 824.1,570.2 824.4,570.2 824.8,570.2 825.1,570.2 825.4,570.2 825.8,570.2 826.1,570.2 826.4,570.2 826.7,570.2 827.1,570.2 827.4,570.2 827.7,570.2 828.0,570.2 828.4,570.2 828.7,570.2 829.0,570.2 829.3,570.2 829.7,570.2 830.0,570.2" fill="none" stroke="#ff1010" stroke-width="0.9"/><polyline points="670.0,570.2 671.2,570.2 672.4,570.2 673.6,570.2 674.8,570.2 676.0,570.2 677.2,570.2 678.4,570.2 679.6,570.2 680.8,570.2 682.0,570.2 683.2,570.2 684.4,570.2 685.6,570.2 686.9,570.2 688.1,570.2 689.3,570.2 690.5,570.2 691.7,570.2 692.9,570.2 694.1,570.2 695.3,570.2 696.5,570.2 697.7,570.2 698.9,570.2 700.1,570.2 701.3,570.2 702.5,570.2 703.7,570.2 704.9,570.2 706.1,570.2 707.3,570.2 708.5,570.2 709.7,570.2 710.9,570.2 712.1,570.2 713.3,570.2 714.5,570.2 715.7,570.2 717.0,570.2 718.2,570.2 719.4,570.2 720.6,570.2 721.8,570.2 723.0,570.2 724.2,570.2 725.4,570.2 726.6,570.2 727.8,570.2 729.0,570.2 730.2,570.2 731.4,570.2 732.6,570.2 733.8,570.2 735.0,570.2 736.2,570.2 737.4,570.2 738.6,570.2 739.8,570.2 741.0,570.2 742.2,570.2 743.4,570.2 744.6,570.2 745.8,570.2 747.0,570.2 748.2,570.2 749.5,570.2 750.7,570.2 751.9,570.2 753.1,570.2 754.3,570.2 755.5,570.2 756.7,570.1 757.9,570.0 759.1,569.9 760.3,569.7 761.5,569.4 762.7,568.9 763.9,568.2 765.1,567.2 766.3,565.8 767.5,563.9 768.7,561.5 769.9,558.5 771.1,554.9 772.3,550.9 773.5,546.5 774.7,542.1 775.9,537.7 777.1,533.8 778.3,530.7 779.5,528.6 780.8,527.7 782.0,528.1 783.2,529.7 784.4,532.4 785.6,535.9 786.8,539.9 788.0,544.1 789.2,548.2 790.4,551.7 791.6,554.4 792.8,556.0 794.0,556.4 795.2,555.3 796.4,552.5 797.6,547.8 798.8,541.3 800.0,532.9 801.2,522.7 802.4,511.0 803.6,498.3 804.8,485.2 806.0,472.5 807.2,461.1 808.4,451.7 809.6,445.1 810.9,442.0 812.1,442.4 813.3,446.5 814.5,453.8 815.7,463.8 816.9,475.7 818.1,488.7 819.3,501.8 820.5,514.5 821.7,526.1 822.9,536.3 824.1,544.9 825.3,551.8 826.5,557.2 827.7,561.3 828.9,564.3 830.1,566.5 831.3,567.9 832.5,568.9 833.7,569.6 834.9,570.1 836.1,570.4 837.3,570.6 838.5,570.8 839.7,570.9 840.9,571.1 842.1,571.2 843.4,571.2 844.6,571.2 845.8,571.2 847.0,571.2 848.2,571.1 849.4,571.0 850.6,570.9 851.8,570.8 853.0,570.7 854.2,570.5 855.4,570.4 856.6,570.3 857.8,570.2 859.0,570.2 860.2,570.1 861.4,570.1 862.6,570.0 863.8,570.0 865.0,569.9 866.2,569.9 867.4,569.9 868.6,569.9 869.8,569.8 871.0,569.8 872.2,569.8 873.5,569.8 874.7,569.7 875.9,569.7 877.1,569.7 878.3,569.6 879.5,569.6 880.7,569.6 881.9,569.6 883.1,569.5 884.3,569.5 885.5,569.5 886.7,569.4 887.9,569.4 889.1,569.4 890.3,569.3 891.5,569.3 892.7,569.3 893.9,569.2 895.1,569.2 896.3,569.2 897.5,569.2 898.7,569.1 899.9,569.1 901.1,569.1 902.3,569.1 903.5,569.1 904.8,569.1 906.0,569.0 907.2,569.0 908.4,569.0 909.6,569.0 910.8,569.0 912.0,569.0 913.2,569.0 914.4,569.0 915.6,569.0 916.8,569.0 918.0,569.0 919.2,569.0 920.4,569.0 921.6,569.1 922.8,569.1 924.0,569.1 925.2,569.1 926.4,569.1 927.6,569.2 928.8,569.2 930.0,569.2 931.2,569.2 932.4,569.3 933.6,569.3 934.8,569.3 936.0,569.3 937.3,569.4 938.5,569.4 939.7,569.4 940.9,569.5 942.1,569.5 943.3,569.5 944.5,569.6 945.7,569.6 946.9,569.6 948.1,569.7 949.3,569.7 950.5,569.7 951.7,569.7 952.9,569.8 954.1,569.8 955.3,569.8 956.5,569.8 957.7,569.9 958.9,569.9 960.1,569.9 961.3,569.9 962.5,569.9 963.7,570.0 964.9,570.0 966.1,570.0 967.4,570.0 968.6,570.0 969.8,570.0 971.0,570.1 972.2,570.1 973.4,570.1 974.6,570.1 975.8,570.1 977.0,570.1 978.2,570.1 979.4,570.1 980.6,570.1 981.8,570.1 983.0,570.1" fill="none" stroke="#222" stroke-width="0.8"/><polyline points="670,570.2 740,570.4 757,570 763.5,568.5 779,530.4 795,556.6 800,538 810.5,441 813,442.5 823,538 828,566.5 833,570.5 838,571.4" fill="none" stroke="#0a0a0a" stroke-width="1.55" stroke-linejoin="round"/><polyline points="838,571.4 845,572.3 870,570.3 912,567.8 950,569.4 983,570.2" fill="none" stroke="#1a1a1a" stroke-width="1.1" stroke-linejoin="round"/><text font-family="'Liberation Serif',serif" x="743.2" y="601.4" font-size="15.3" fill="#111" stroke="#111" stroke-width="0.3">Chemical shift (ppm)</text><text font-family="'Liberation Serif',serif" x="849.5" y="480.2" font-size="17.3" letter-spacing="0.35" fill="#3c3c46"><tspan font-size="9.5" dy="-6">7</tspan><tspan dy="6">Li MAS NMR</tspan></text><text font-family="'Liberation Serif',serif" x="827.5" y="501" font-size="17.3" letter-spacing="0.1" fill="#3c3c46">of Li<tspan font-size="11" baseline-shift="-3.6">1.29</tspan>Ti<tspan font-size="11" baseline-shift="-3.6">1.71</tspan>Al<tspan font-size="11" baseline-shift="-3.6">0.29</tspan>(PO<tspan font-size="11" baseline-shift="-3.6">4</tspan>)<tspan font-size="11" baseline-shift="-3.6">3</tspan></text></g></svg></body></html>
